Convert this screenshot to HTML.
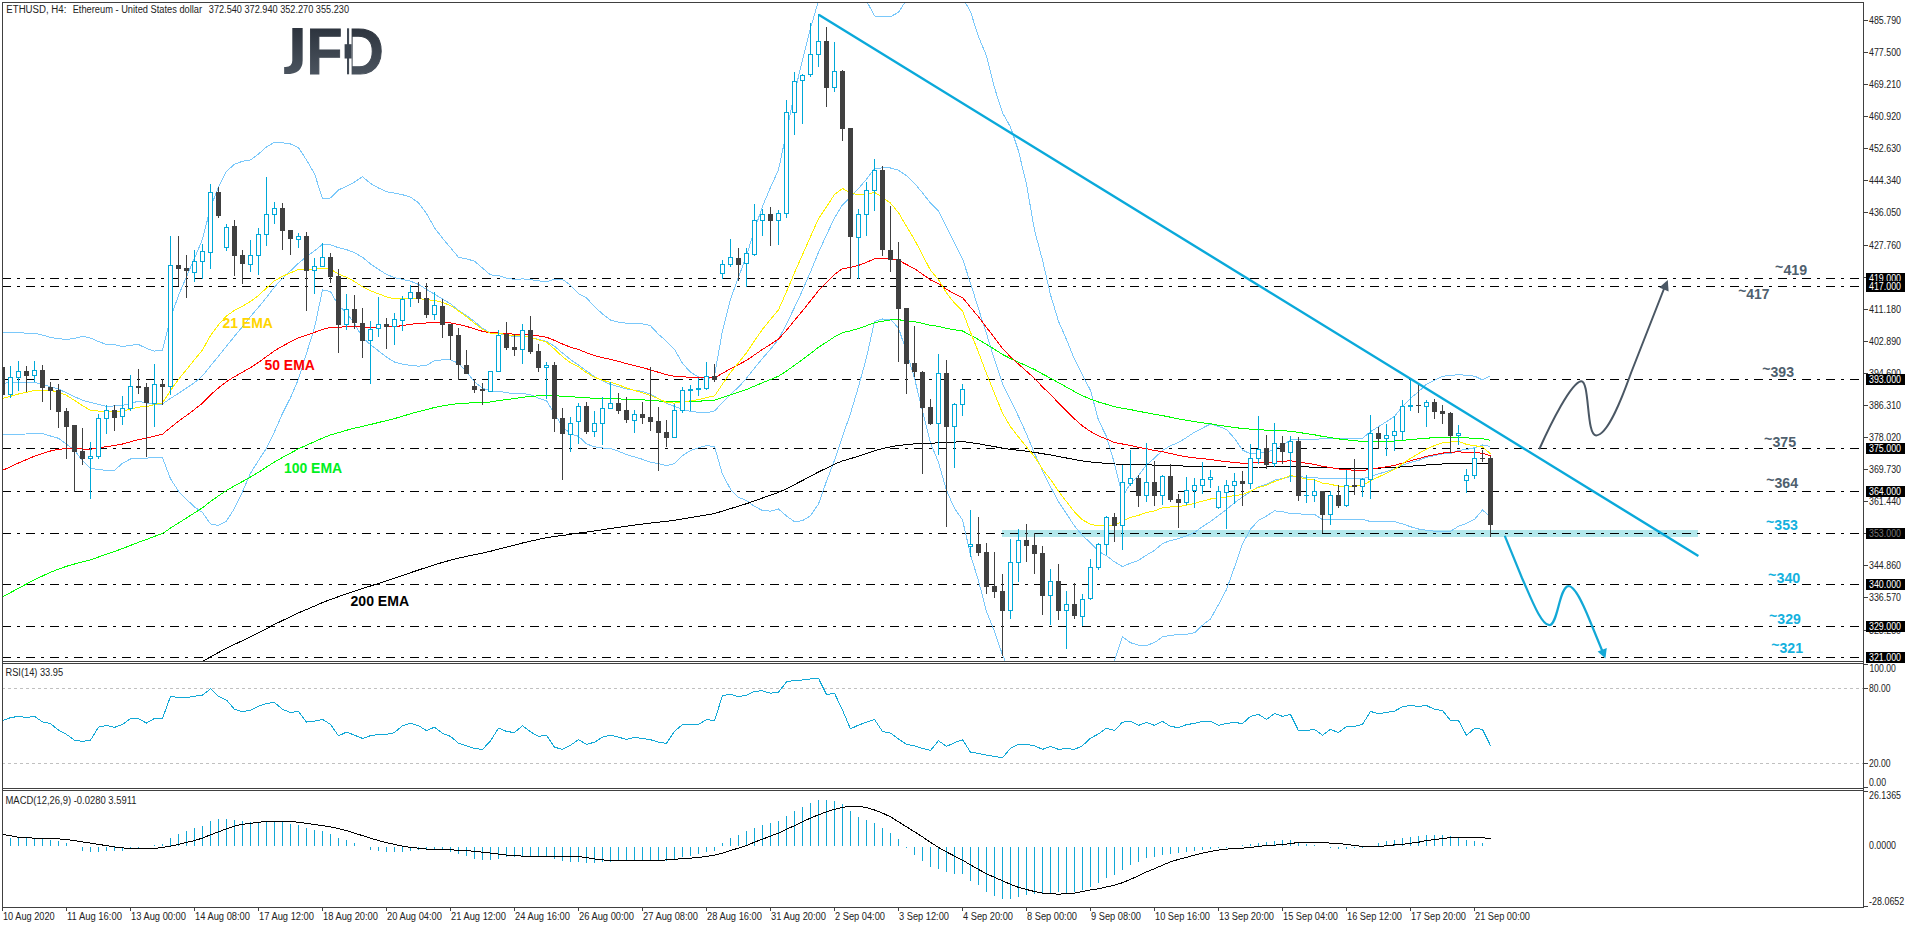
<!DOCTYPE html><html><head><meta charset="utf-8"><title>ETHUSD H4</title>
<style>html,body{margin:0;padding:0;background:#fff;}svg{display:block}text{font-family:"Liberation Sans",sans-serif;}</style></head><body>
<svg width="1916" height="928" viewBox="0 0 1916 928">
<rect width="1916" height="928" fill="#fff"/>
<defs><clipPath id="cm"><rect x="3" y="3" width="1860" height="658"/></clipPath>
<clipPath id="cr"><rect x="3" y="664" width="1860" height="124"/></clipPath>
<clipPath id="cd"><rect x="3" y="791" width="1860" height="116"/></clipPath>
<linearGradient id="lg" gradientUnits="userSpaceOnUse" x1="0" y1="28" x2="0" y2="75"><stop offset="0" stop-color="#2d343e"/><stop offset="1" stop-color="#4b545f"/></linearGradient>
</defs>
<g clip-path="url(#cm)">
<rect x="1002" y="530" width="696" height="7" fill="#b3e8ec"/>
<line x1="2" y1="278.5" x2="1860" y2="278.5" stroke="#000" stroke-width="1" stroke-dasharray="9 6 3 6" shape-rendering="crispEdges"/>
<line x1="2" y1="286.5" x2="1860" y2="286.5" stroke="#000" stroke-width="1" stroke-dasharray="9 6 3 6" shape-rendering="crispEdges"/>
<line x1="2" y1="379.5" x2="1860" y2="379.5" stroke="#000" stroke-width="1" stroke-dasharray="9 6 3 6" shape-rendering="crispEdges"/>
<line x1="2" y1="448.5" x2="1860" y2="448.5" stroke="#000" stroke-width="1" stroke-dasharray="9 6 3 6" shape-rendering="crispEdges"/>
<line x1="2" y1="491.5" x2="1860" y2="491.5" stroke="#000" stroke-width="1" stroke-dasharray="9 6 3 6" shape-rendering="crispEdges"/>
<line x1="2" y1="533.5" x2="1860" y2="533.5" stroke="#000" stroke-width="1" stroke-dasharray="9 6 3 6" shape-rendering="crispEdges"/>
<line x1="2" y1="584.5" x2="1860" y2="584.5" stroke="#000" stroke-width="1" stroke-dasharray="9 6 3 6" shape-rendering="crispEdges"/>
<line x1="2" y1="626.5" x2="1860" y2="626.5" stroke="#000" stroke-width="1" stroke-dasharray="9 6 3 6" shape-rendering="crispEdges"/>
<line x1="2" y1="657.5" x2="1860" y2="657.5" stroke="#000" stroke-width="1" stroke-dasharray="9 6 3 6" shape-rendering="crispEdges"/>
<polyline points="2.5,332.4 10.5,332.4 18.5,332.4 26.5,333.3 34.5,333.3 42.5,335.1 50.5,337.4 58.5,338.7 66.5,339.5 74.5,338.3 82.5,336.3 90.5,338.1 98.5,341.5 106.5,344.5 114.5,344.5 122.5,346.6 130.5,345.2 138.5,344.5 146.5,348.4 154.5,351.1 162.5,350.3 170.5,318.1 178.5,295.5 186.5,276.7 194.5,258.3 202.5,239.1 210.5,207.8 218.5,186.8 226.5,171.3 234.5,164.2 242.5,161.3 250.5,159.9 258.5,154.1 266.5,146.9 274.5,142.3 282.5,142.8 290.5,144.0 298.5,147.6 306.5,160.0 314.5,173.6 322.5,198.7 330.5,198.0 338.5,189.9 346.5,186.5 354.5,182.0 362.5,176.7 370.5,183.4 378.5,188.0 386.5,191.7 394.5,193.1 402.5,194.7 410.5,197.1 418.5,202.8 426.5,213.5 434.5,227.8 442.5,238.2 450.5,247.7 458.5,257.3 466.5,258.9 474.5,261.1 482.5,268.1 490.5,274.9 498.5,275.5 506.5,278.1 514.5,279.4 522.5,278.9 530.5,279.7 538.5,280.8 546.5,282.0 554.5,279.1 562.5,279.4 570.5,285.3 578.5,293.6 586.5,297.8 594.5,306.7 602.5,313.9 610.5,320.1 618.5,322.1 626.5,323.2 634.5,323.5 642.5,323.8 650.5,325.7 658.5,334.3 666.5,341.3 674.5,349.3 682.5,363.3 690.5,372.2 698.5,377.0 706.5,380.3 714.5,375.5 722.5,330.7 730.5,299.3 738.5,277.1 746.5,255.9 754.5,229.8 762.5,206.3 770.5,187.4 778.5,169.8 786.5,132.0 794.5,93.1 802.5,59.9 810.5,28.2 818.5,0.8 826.5,-11.4 834.5,-24.4 842.5,-26.9 850.5,-19.2 858.5,-9.6 866.5,0.8 874.5,15.9 882.5,16.9 890.5,16.7 898.5,12.3 906.5,-0.2 914.5,-11.7 922.5,-25.0 930.5,-36.9 938.5,-40.1 946.5,-36.7 954.5,-22.5 962.5,-2.4 970.5,11.6 978.5,36.7 986.5,55.9 994.5,87.8 1002.5,112.7 1010.5,127.1 1018.5,150.9 1026.5,184.4 1034.5,230.2 1042.5,260.1 1050.5,294.8 1058.5,321.2 1066.5,339.6 1074.5,359.3 1082.5,375.3 1090.5,390.4 1098.5,420.2 1106.5,436.5 1114.5,463.5 1122.5,496.4 1130.5,483.7 1138.5,475.6 1146.5,464.9 1154.5,458.1 1162.5,450.4 1170.5,445.8 1178.5,442.5 1186.5,437.6 1194.5,432.1 1202.5,428.1 1210.5,424.0 1218.5,426.4 1226.5,429.5 1234.5,438.4 1242.5,450.0 1250.5,453.9 1258.5,453.2 1266.5,452.3 1274.5,449.4 1282.5,445.4 1290.5,439.9 1298.5,439.9 1306.5,439.7 1314.5,439.8 1322.5,438.4 1330.5,438.5 1338.5,438.3 1346.5,438.3 1354.5,438.3 1362.5,438.4 1370.5,431.6 1378.5,426.6 1386.5,421.6 1394.5,416.4 1402.5,406.4 1410.5,398.3 1418.5,391.7 1426.5,384.2 1434.5,380.2 1442.5,376.2 1450.5,375.6 1458.5,374.5 1466.5,375.4 1474.5,376.1 1482.5,379.9 1490.5,375.9" fill="none" stroke="#7ac8fa" stroke-width="1" shape-rendering="crispEdges" />
<polyline points="2.5,383.1 10.5,382.9 18.5,382.6 26.5,382.4 34.5,382.2 42.5,384.5 50.5,386.8 58.5,389.1 66.5,392.8 74.5,396.6 82.5,400.3 90.5,402.3 98.5,404.4 106.5,406.4 114.5,405.9 122.5,405.5 130.5,403.4 138.5,401.2 146.5,403.0 154.5,404.4 162.5,404.0 170.5,398.4 178.5,393.3 186.5,388.1 194.5,382.6 202.5,375.8 210.5,365.9 218.5,356.1 226.5,346.1 234.5,336.3 242.5,326.6 250.5,316.5 258.5,307.3 266.5,297.5 274.5,287.1 282.5,278.2 290.5,270.8 298.5,263.2 306.5,256.7 314.5,250.8 322.5,244.3 330.5,244.8 338.5,247.7 346.5,249.6 354.5,252.7 362.5,257.2 370.5,264.0 378.5,269.4 386.5,274.4 394.5,277.6 402.5,279.4 410.5,281.2 418.5,284.4 426.5,289.4 434.5,294.3 442.5,299.0 450.5,303.8 458.5,310.2 466.5,315.4 474.5,321.5 482.5,328.2 490.5,332.9 498.5,333.4 506.5,335.3 514.5,336.6 522.5,336.1 530.5,337.2 538.5,339.4 546.5,341.4 554.5,346.3 562.5,353.0 570.5,359.6 578.5,365.0 586.5,370.9 594.5,376.8 602.5,380.9 610.5,384.4 618.5,386.6 626.5,388.9 634.5,390.2 642.5,391.5 650.5,394.0 658.5,398.9 666.5,403.4 674.5,406.4 682.5,409.4 690.5,411.3 698.5,412.4 706.5,412.9 714.5,411.0 722.5,402.6 730.5,394.2 738.5,387.2 746.5,378.2 754.5,368.1 762.5,358.4 770.5,349.2 778.5,339.4 786.5,324.0 794.5,307.4 802.5,290.3 810.5,271.9 818.5,252.4 826.5,234.9 834.5,217.9 842.5,204.8 850.5,197.2 858.5,188.5 866.5,179.2 874.5,168.7 882.5,167.9 890.5,168.0 898.5,170.2 906.5,175.7 914.5,183.3 922.5,192.9 930.5,203.1 938.5,211.1 946.5,226.8 954.5,243.0 962.5,258.7 970.5,283.2 978.5,308.8 986.5,333.7 994.5,359.7 1002.5,383.8 1010.5,400.1 1018.5,416.4 1026.5,434.1 1034.5,453.3 1042.5,470.6 1050.5,486.7 1058.5,501.8 1066.5,513.8 1074.5,526.0 1082.5,535.6 1090.5,542.8 1098.5,551.3 1106.5,555.8 1114.5,561.9 1122.5,566.5 1130.5,563.2 1138.5,560.4 1146.5,555.1 1154.5,550.4 1162.5,543.6 1170.5,540.5 1178.5,538.6 1186.5,535.9 1194.5,532.5 1202.5,526.6 1210.5,521.5 1218.5,515.5 1226.5,509.5 1234.5,502.8 1242.5,497.0 1250.5,491.6 1258.5,486.8 1266.5,484.2 1274.5,480.1 1282.5,478.6 1290.5,476.7 1298.5,476.7 1306.5,477.3 1314.5,477.1 1322.5,479.0 1330.5,478.8 1338.5,478.9 1346.5,478.7 1354.5,478.8 1362.5,478.8 1370.5,476.6 1378.5,473.9 1386.5,471.5 1394.5,469.0 1402.5,465.1 1410.5,462.5 1418.5,460.4 1426.5,457.2 1434.5,455.7 1442.5,453.8 1450.5,453.5 1458.5,450.4 1466.5,449.4 1474.5,447.8 1482.5,445.0 1490.5,446.4" fill="none" stroke="#7ac8fa" stroke-width="1" shape-rendering="crispEdges" />
<polyline points="2.5,434.5 10.5,434.3 18.5,434.1 26.5,434.0 34.5,433.8 42.5,433.6 50.5,436.0 58.5,438.3 66.5,444.3 74.5,450.3 82.5,460.7 90.5,468.4 98.5,469.4 106.5,470.5 114.5,470.2 122.5,463.3 130.5,459.0 138.5,458.6 146.5,458.1 154.5,457.7 162.5,457.7 170.5,478.8 178.5,491.2 186.5,499.4 194.5,506.9 202.5,512.5 210.5,523.9 218.5,525.4 226.5,521.0 234.5,508.4 242.5,491.8 250.5,473.2 258.5,460.5 266.5,448.1 274.5,431.8 282.5,413.5 290.5,397.7 298.5,378.9 306.5,353.3 314.5,327.9 322.5,289.8 330.5,291.7 338.5,305.5 346.5,312.7 354.5,323.4 362.5,337.6 370.5,344.6 378.5,350.9 386.5,357.1 394.5,362.0 402.5,364.1 410.5,365.4 418.5,366.1 426.5,365.4 434.5,360.7 442.5,359.8 450.5,359.9 458.5,363.2 466.5,371.8 474.5,381.9 482.5,388.2 490.5,390.9 498.5,391.3 506.5,392.5 514.5,393.9 522.5,393.4 530.5,394.8 538.5,398.1 546.5,400.8 554.5,413.6 562.5,426.7 570.5,433.8 578.5,436.3 586.5,443.9 594.5,446.8 602.5,448.0 610.5,448.6 618.5,451.2 626.5,454.7 634.5,456.9 642.5,459.3 650.5,462.3 658.5,463.5 666.5,465.6 674.5,463.6 682.5,455.6 690.5,450.5 698.5,447.7 706.5,445.6 714.5,446.5 722.5,474.4 730.5,489.2 738.5,497.3 746.5,500.6 754.5,506.4 762.5,510.5 770.5,511.1 778.5,509.0 786.5,516.0 794.5,521.7 802.5,520.7 810.5,515.7 818.5,504.0 826.5,481.2 834.5,460.2 842.5,436.5 850.5,413.5 858.5,386.6 866.5,357.6 874.5,321.5 882.5,319.0 890.5,319.3 898.5,328.1 906.5,351.6 914.5,378.3 922.5,410.9 930.5,443.1 938.5,462.4 946.5,490.4 954.5,508.5 962.5,519.8 970.5,554.8 978.5,580.8 986.5,611.5 994.5,631.6 1002.5,654.9 1010.5,673.1 1018.5,681.9 1026.5,683.9 1034.5,676.4 1042.5,681.1 1050.5,678.6 1058.5,682.4 1066.5,688.0 1074.5,692.7 1082.5,695.9 1090.5,695.1 1098.5,682.4 1106.5,675.1 1114.5,660.2 1122.5,636.6 1130.5,642.7 1138.5,645.1 1146.5,645.4 1154.5,642.6 1162.5,636.9 1170.5,635.2 1178.5,634.7 1186.5,634.2 1194.5,632.8 1202.5,625.2 1210.5,618.9 1218.5,604.6 1226.5,589.6 1234.5,567.2 1242.5,544.0 1250.5,529.2 1258.5,520.4 1266.5,516.1 1274.5,510.8 1282.5,511.7 1290.5,513.5 1298.5,513.5 1306.5,514.9 1314.5,514.4 1322.5,519.7 1330.5,519.1 1338.5,519.6 1346.5,519.1 1354.5,519.2 1362.5,519.2 1370.5,521.6 1378.5,521.3 1386.5,521.4 1394.5,521.6 1402.5,523.9 1410.5,526.7 1418.5,529.0 1426.5,530.3 1434.5,531.2 1442.5,531.4 1450.5,531.4 1458.5,526.2 1466.5,523.4 1474.5,519.4 1482.5,510.0 1490.5,517.0" fill="none" stroke="#7ac8fa" stroke-width="1" shape-rendering="crispEdges" />
<polyline points="2.5,743.5 10.5,739.9 18.5,736.2 26.5,732.6 34.5,729.0 42.5,725.6 50.5,722.3 58.5,719.2 66.5,716.3 74.5,713.6 82.5,711.1 90.5,708.6 98.5,705.7 106.5,702.7 114.5,699.9 122.5,697.0 130.5,693.9 138.5,690.9 146.5,688.0 154.5,685.0 162.5,682.0 170.5,677.9 178.5,673.8 186.5,669.8 194.5,665.7 202.5,661.6 210.5,656.9 218.5,652.5 226.5,648.3 234.5,644.4 242.5,640.6 250.5,636.8 258.5,632.8 266.5,628.6 274.5,624.4 282.5,620.5 290.5,616.7 298.5,612.9 306.5,609.5 314.5,606.1 322.5,602.6 330.5,599.4 338.5,596.7 346.5,593.8 354.5,591.1 362.5,588.6 370.5,586.0 378.5,583.4 386.5,580.9 394.5,578.3 402.5,575.5 410.5,572.7 418.5,570.0 426.5,567.4 434.5,564.8 442.5,562.4 450.5,560.2 458.5,558.2 466.5,556.4 474.5,554.7 482.5,553.1 490.5,551.3 498.5,549.1 506.5,547.1 514.5,545.2 522.5,543.0 530.5,541.1 538.5,539.4 546.5,537.7 554.5,536.5 562.5,535.5 570.5,534.3 578.5,533.1 586.5,532.1 594.5,531.0 602.5,529.8 610.5,528.5 618.5,527.3 626.5,526.3 634.5,525.1 642.5,524.1 650.5,523.1 658.5,522.2 666.5,521.3 674.5,520.2 682.5,518.9 690.5,517.6 698.5,516.3 706.5,515.0 714.5,513.6 722.5,511.1 730.5,508.6 738.5,506.2 746.5,503.7 754.5,500.9 762.5,498.0 770.5,495.2 778.5,492.4 786.5,488.7 794.5,484.6 802.5,480.5 810.5,476.3 818.5,472.0 826.5,468.1 834.5,464.2 842.5,460.9 850.5,458.6 858.5,456.2 866.5,453.6 874.5,450.7 882.5,448.7 890.5,446.8 898.5,445.5 906.5,444.7 914.5,443.9 922.5,443.6 930.5,443.4 938.5,442.7 946.5,442.5 954.5,442.1 962.5,441.6 970.5,442.6 978.5,443.7 986.5,445.2 994.5,446.6 1002.5,448.2 1010.5,449.4 1018.5,450.3 1026.5,451.2 1034.5,452.3 1042.5,453.7 1050.5,454.9 1058.5,456.5 1066.5,458.0 1074.5,459.5 1082.5,460.9 1090.5,462.0 1098.5,462.8 1106.5,463.3 1114.5,464.0 1122.5,464.1 1130.5,464.3 1138.5,464.6 1146.5,464.8 1154.5,465.1 1162.5,465.2 1170.5,465.5 1178.5,465.9 1186.5,466.1 1194.5,466.3 1202.5,466.5 1210.5,466.6 1218.5,466.8 1226.5,467.0 1234.5,467.1 1242.5,467.3 1250.5,467.2 1258.5,467.0 1266.5,467.0 1274.5,466.8 1282.5,466.6 1290.5,466.4 1298.5,466.7 1306.5,466.9 1314.5,467.2 1322.5,467.7 1330.5,467.9 1338.5,468.3 1346.5,468.5 1354.5,468.7 1362.5,468.8 1370.5,468.4 1378.5,468.1 1386.5,467.8 1394.5,467.4 1402.5,466.8 1410.5,466.2 1418.5,465.6 1426.5,465.0 1434.5,464.5 1442.5,464.0 1450.5,463.7 1458.5,463.4 1466.5,463.5 1474.5,463.4 1482.5,463.4 1490.5,464.0" fill="none" stroke="#000000" stroke-width="1" shape-rendering="crispEdges" />
<polyline points="2.5,596.9 10.5,592.6 18.5,588.2 26.5,584.0 34.5,579.7 42.5,576.0 50.5,572.3 58.5,569.1 66.5,566.3 74.5,564.0 82.5,561.9 90.5,559.8 98.5,557.0 106.5,554.1 114.5,551.4 122.5,548.6 130.5,545.4 138.5,542.3 146.5,539.5 154.5,536.4 162.5,533.5 170.5,528.1 178.5,523.0 186.5,518.0 194.5,512.9 202.5,507.8 210.5,501.5 218.5,495.9 226.5,490.5 234.5,485.9 242.5,481.5 250.5,477.0 258.5,472.2 266.5,467.1 274.5,462.0 282.5,457.4 290.5,453.1 298.5,448.8 306.5,445.3 314.5,441.7 322.5,438.1 330.5,434.9 338.5,432.7 346.5,430.3 354.5,428.1 362.5,426.4 370.5,424.5 378.5,422.5 386.5,420.6 394.5,418.6 402.5,416.2 410.5,413.8 418.5,411.5 426.5,409.6 434.5,407.5 442.5,405.9 450.5,404.5 458.5,403.7 466.5,403.1 474.5,402.8 482.5,402.6 490.5,402.0 498.5,400.6 506.5,399.6 514.5,398.6 522.5,397.3 530.5,396.4 538.5,395.8 546.5,395.2 554.5,395.6 562.5,396.4 570.5,396.9 578.5,397.1 586.5,397.8 594.5,398.3 602.5,398.5 610.5,398.6 618.5,398.9 626.5,399.3 634.5,399.6 642.5,399.9 650.5,400.3 658.5,401.0 666.5,401.7 674.5,401.9 682.5,401.7 690.5,401.4 698.5,401.2 706.5,400.7 714.5,400.3 722.5,397.6 730.5,394.8 738.5,392.2 746.5,389.5 754.5,386.1 762.5,382.7 770.5,379.5 778.5,376.2 786.5,371.0 794.5,365.3 802.5,359.5 810.5,353.5 818.5,347.3 826.5,342.2 834.5,336.8 842.5,332.7 850.5,330.8 858.5,328.5 866.5,325.7 874.5,322.7 882.5,321.2 890.5,320.0 898.5,319.8 906.5,320.6 914.5,321.7 922.5,323.4 930.5,325.4 938.5,326.3 946.5,328.3 954.5,329.8 962.5,331.0 970.5,335.2 978.5,339.5 986.5,344.4 994.5,349.3 1002.5,354.5 1010.5,358.6 1018.5,362.2 1026.5,365.8 1034.5,369.5 1042.5,374.0 1050.5,378.1 1058.5,382.7 1066.5,387.1 1074.5,391.6 1082.5,395.7 1090.5,399.1 1098.5,402.0 1106.5,404.3 1114.5,406.7 1122.5,408.2 1130.5,409.6 1138.5,411.3 1146.5,412.7 1154.5,414.3 1162.5,415.6 1170.5,417.2 1178.5,418.9 1186.5,420.3 1194.5,421.6 1202.5,422.8 1210.5,423.8 1218.5,425.2 1226.5,426.4 1234.5,427.4 1242.5,428.6 1250.5,429.1 1258.5,429.5 1266.5,430.2 1274.5,430.5 1282.5,430.9 1290.5,431.1 1298.5,432.4 1306.5,433.6 1314.5,434.8 1322.5,436.4 1330.5,437.5 1338.5,438.9 1346.5,439.8 1354.5,440.7 1362.5,441.5 1370.5,441.3 1378.5,441.3 1386.5,441.2 1394.5,441.0 1402.5,440.3 1410.5,439.6 1418.5,438.9 1426.5,438.2 1434.5,437.7 1442.5,437.2 1450.5,437.2 1458.5,437.1 1466.5,437.9 1474.5,438.3 1482.5,438.7 1490.5,440.4" fill="none" stroke="#00ff00" stroke-width="1" shape-rendering="crispEdges" />
<polyline points="2.5,470.4 10.5,466.8 18.5,463.0 26.5,459.6 34.5,456.1 42.5,453.4 50.5,451.0 58.5,449.4 66.5,448.5 74.5,448.6 82.5,449.0 90.5,449.3 98.5,448.1 106.5,446.6 114.5,445.5 122.5,444.0 130.5,441.8 138.5,439.6 146.5,438.2 154.5,436.1 162.5,434.2 170.5,427.5 178.5,421.3 186.5,415.4 194.5,409.4 202.5,403.2 210.5,394.9 218.5,387.9 226.5,381.6 234.5,376.7 242.5,372.2 250.5,367.6 258.5,362.4 266.5,356.6 274.5,350.8 282.5,346.1 290.5,341.9 298.5,337.7 306.5,335.1 314.5,332.4 322.5,329.5 330.5,327.4 338.5,327.3 346.5,326.6 354.5,326.5 362.5,327.0 370.5,327.1 378.5,327.0 386.5,327.0 394.5,326.7 402.5,325.6 410.5,324.3 418.5,323.3 426.5,323.0 434.5,322.3 442.5,322.4 450.5,322.9 458.5,324.5 466.5,326.4 474.5,328.9 482.5,331.3 490.5,332.9 498.5,333.0 506.5,333.6 514.5,334.2 522.5,334.1 530.5,334.8 538.5,336.0 546.5,337.2 554.5,340.4 562.5,344.0 570.5,347.2 578.5,349.5 586.5,352.7 594.5,355.5 602.5,357.6 610.5,359.4 618.5,361.4 626.5,363.7 634.5,365.6 642.5,367.7 650.5,369.8 658.5,372.3 666.5,374.8 674.5,376.2 682.5,376.8 690.5,377.3 698.5,377.7 706.5,377.7 714.5,377.8 722.5,373.3 730.5,368.8 738.5,364.7 746.5,360.3 754.5,354.9 762.5,349.4 770.5,344.3 778.5,339.2 786.5,330.3 794.5,320.5 802.5,310.9 810.5,300.8 818.5,290.7 826.5,282.7 834.5,274.4 842.5,268.7 850.5,267.4 858.5,265.4 866.5,262.4 874.5,258.8 882.5,258.4 890.5,258.5 898.5,260.4 906.5,264.5 914.5,268.7 922.5,274.2 930.5,280.0 938.5,283.7 946.5,289.3 954.5,293.8 962.5,297.6 970.5,307.3 978.5,316.9 986.5,327.4 994.5,337.8 1002.5,348.5 1010.5,356.9 1018.5,364.1 1026.5,371.2 1034.5,378.4 1042.5,386.9 1050.5,394.5 1058.5,403.0 1066.5,410.9 1074.5,418.9 1082.5,426.0 1090.5,431.5 1098.5,435.9 1106.5,439.1 1114.5,442.5 1122.5,444.0 1130.5,445.4 1138.5,447.4 1146.5,448.7 1154.5,450.6 1162.5,451.6 1170.5,453.5 1178.5,455.4 1186.5,456.8 1194.5,457.9 1202.5,458.7 1210.5,459.5 1218.5,460.7 1226.5,461.7 1234.5,462.4 1242.5,463.3 1250.5,463.0 1258.5,462.5 1266.5,462.6 1274.5,461.8 1282.5,461.4 1290.5,460.7 1298.5,462.0 1306.5,463.3 1314.5,464.4 1322.5,466.4 1330.5,467.5 1338.5,469.0 1346.5,469.7 1354.5,470.3 1362.5,470.7 1370.5,469.2 1378.5,468.0 1386.5,466.7 1394.5,465.4 1402.5,463.1 1410.5,460.8 1418.5,458.6 1426.5,456.4 1434.5,454.7 1442.5,453.1 1450.5,452.4 1458.5,451.7 1466.5,452.6 1474.5,452.8 1482.5,453.1 1490.5,455.9" fill="none" stroke="#ff0000" stroke-width="1" shape-rendering="crispEdges" />
<polyline points="2.5,398.3 10.5,396.3 18.5,394.0 26.5,392.4 34.5,390.4 42.5,390.2 50.5,390.3 58.5,392.2 66.5,395.3 74.5,400.4 82.5,405.7 90.5,410.3 98.5,411.1 106.5,411.0 114.5,411.6 122.5,411.3 130.5,409.0 138.5,407.1 146.5,406.6 154.5,404.6 162.5,403.0 170.5,390.5 178.5,379.4 186.5,369.6 194.5,359.7 202.5,349.9 210.5,335.6 218.5,324.7 226.5,315.9 234.5,310.4 242.5,306.1 250.5,301.5 258.5,295.4 266.5,288.1 274.5,280.8 282.5,276.3 290.5,272.9 298.5,269.5 306.5,269.6 314.5,269.3 322.5,268.2 330.5,269.0 338.5,274.1 346.5,277.3 354.5,281.5 362.5,286.9 370.5,290.8 378.5,293.8 386.5,296.8 394.5,298.8 402.5,298.9 410.5,298.3 418.5,298.3 426.5,299.8 434.5,300.3 442.5,302.5 450.5,305.5 458.5,310.9 466.5,316.6 474.5,323.2 482.5,329.3 490.5,333.2 498.5,333.3 506.5,334.6 514.5,336.0 522.5,335.5 530.5,337.0 538.5,339.8 546.5,342.1 554.5,349.1 562.5,356.7 570.5,362.8 578.5,366.8 586.5,372.7 594.5,377.3 602.5,380.2 610.5,382.3 618.5,384.8 626.5,388.0 634.5,390.4 642.5,392.8 650.5,395.4 658.5,398.8 666.5,402.4 674.5,403.1 682.5,402.0 690.5,400.8 698.5,399.7 706.5,397.6 714.5,396.0 722.5,384.0 730.5,372.5 738.5,362.8 746.5,352.8 754.5,340.8 762.5,329.3 770.5,319.4 778.5,309.8 786.5,291.8 794.5,272.7 802.5,254.8 810.5,236.6 818.5,218.8 826.5,206.9 834.5,194.5 842.5,188.5 850.5,192.9 858.5,194.9 866.5,194.5 874.5,192.3 882.5,197.5 890.5,203.1 898.5,212.7 906.5,226.4 914.5,239.7 922.5,254.9 930.5,270.3 938.5,279.7 946.5,293.0 954.5,303.2 962.5,311.0 970.5,332.2 978.5,352.3 986.5,373.6 994.5,393.4 1002.5,413.1 1010.5,426.7 1018.5,437.0 1026.5,446.9 1034.5,456.6 1042.5,469.2 1050.5,479.4 1058.5,491.3 1066.5,501.6 1074.5,511.9 1082.5,519.9 1090.5,524.2 1098.5,526.0 1106.5,525.2 1114.5,525.2 1122.5,521.3 1130.5,517.4 1138.5,515.4 1146.5,512.4 1154.5,510.9 1162.5,507.8 1170.5,507.0 1178.5,506.7 1186.5,505.2 1194.5,503.4 1202.5,501.1 1210.5,499.0 1218.5,498.3 1226.5,497.1 1234.5,495.6 1242.5,494.5 1250.5,491.2 1258.5,487.4 1266.5,485.3 1274.5,481.5 1282.5,478.8 1290.5,475.4 1298.5,477.2 1306.5,478.9 1314.5,480.0 1322.5,483.1 1330.5,484.3 1338.5,486.2 1346.5,486.1 1354.5,486.2 1362.5,485.6 1370.5,480.8 1378.5,477.0 1386.5,473.2 1394.5,469.4 1402.5,463.7 1410.5,458.4 1418.5,453.6 1426.5,449.0 1434.5,445.6 1442.5,442.8 1450.5,442.1 1458.5,441.3 1466.5,444.4 1474.5,445.7 1482.5,446.9 1490.5,453.9" fill="none" stroke="#fff200" stroke-width="1" shape-rendering="crispEdges" />
<g shape-rendering="crispEdges">
<rect x="2" y="365" width="1" height="32" fill="#404040"/>
<rect x="0" y="367" width="5" height="28" fill="#404040"/>
<rect x="10" y="366" width="1" height="32" fill="#00a8d8"/>
<rect x="8" y="377" width="5" height="18" fill="#00a8d8"/>
<rect x="9" y="378" width="3" height="16" fill="#fff"/>
<rect x="18" y="361" width="1" height="30" fill="#00a8d8"/>
<rect x="16" y="371" width="5" height="7" fill="#00a8d8"/>
<rect x="17" y="372" width="3" height="5" fill="#fff"/>
<rect x="26" y="366" width="1" height="26" fill="#404040"/>
<rect x="24" y="371" width="5" height="5" fill="#404040"/>
<rect x="34" y="361" width="1" height="21" fill="#00a8d8"/>
<rect x="32" y="370" width="5" height="6" fill="#00a8d8"/>
<rect x="33" y="371" width="3" height="4" fill="#fff"/>
<rect x="42" y="365" width="1" height="37" fill="#404040"/>
<rect x="40" y="370" width="5" height="18" fill="#404040"/>
<rect x="50" y="382" width="1" height="28" fill="#404040"/>
<rect x="48" y="387" width="5" height="4" fill="#404040"/>
<rect x="58" y="384" width="1" height="44" fill="#404040"/>
<rect x="56" y="390" width="5" height="22" fill="#404040"/>
<rect x="66" y="408" width="1" height="51" fill="#404040"/>
<rect x="64" y="411" width="5" height="16" fill="#404040"/>
<rect x="74" y="425" width="1" height="67" fill="#404040"/>
<rect x="72" y="425" width="5" height="27" fill="#404040"/>
<rect x="82" y="428" width="1" height="37" fill="#404040"/>
<rect x="80" y="451" width="5" height="8" fill="#404040"/>
<rect x="90" y="442" width="1" height="57" fill="#00a8d8"/>
<rect x="88" y="456" width="5" height="3" fill="#00a8d8"/>
<rect x="89" y="457" width="3" height="1" fill="#fff"/>
<rect x="98" y="414" width="1" height="45" fill="#00a8d8"/>
<rect x="96" y="418" width="5" height="39" fill="#00a8d8"/>
<rect x="97" y="419" width="3" height="37" fill="#fff"/>
<rect x="106" y="405" width="1" height="29" fill="#00a8d8"/>
<rect x="104" y="410" width="5" height="9" fill="#00a8d8"/>
<rect x="105" y="411" width="3" height="7" fill="#fff"/>
<rect x="114" y="405" width="1" height="26" fill="#404040"/>
<rect x="112" y="410" width="5" height="8" fill="#404040"/>
<rect x="122" y="396" width="1" height="29" fill="#00a8d8"/>
<rect x="120" y="408" width="5" height="9" fill="#00a8d8"/>
<rect x="121" y="409" width="3" height="7" fill="#fff"/>
<rect x="130" y="375" width="1" height="36" fill="#00a8d8"/>
<rect x="128" y="386" width="5" height="23" fill="#00a8d8"/>
<rect x="129" y="387" width="3" height="21" fill="#fff"/>
<rect x="138" y="369" width="1" height="25" fill="#404040"/>
<rect x="136" y="386" width="5" height="2" fill="#404040"/>
<rect x="146" y="383" width="1" height="74" fill="#404040"/>
<rect x="144" y="387" width="5" height="16" fill="#404040"/>
<rect x="154" y="364" width="1" height="63" fill="#00a8d8"/>
<rect x="152" y="384" width="5" height="20" fill="#00a8d8"/>
<rect x="153" y="385" width="3" height="18" fill="#fff"/>
<rect x="162" y="379" width="1" height="26" fill="#404040"/>
<rect x="160" y="384" width="5" height="3" fill="#404040"/>
<rect x="170" y="236" width="1" height="159" fill="#00a8d8"/>
<rect x="168" y="265" width="5" height="122" fill="#00a8d8"/>
<rect x="169" y="266" width="3" height="120" fill="#fff"/>
<rect x="178" y="236" width="1" height="50" fill="#404040"/>
<rect x="176" y="265" width="5" height="4" fill="#404040"/>
<rect x="186" y="255" width="1" height="43" fill="#404040"/>
<rect x="184" y="268" width="5" height="3" fill="#404040"/>
<rect x="194" y="250" width="1" height="32" fill="#00a8d8"/>
<rect x="192" y="261" width="5" height="12" fill="#00a8d8"/>
<rect x="193" y="262" width="3" height="10" fill="#fff"/>
<rect x="202" y="244" width="1" height="35" fill="#00a8d8"/>
<rect x="200" y="251" width="5" height="11" fill="#00a8d8"/>
<rect x="201" y="252" width="3" height="9" fill="#fff"/>
<rect x="210" y="184" width="1" height="85" fill="#00a8d8"/>
<rect x="208" y="192" width="5" height="61" fill="#00a8d8"/>
<rect x="209" y="193" width="3" height="59" fill="#fff"/>
<rect x="218" y="187" width="1" height="31" fill="#404040"/>
<rect x="216" y="192" width="5" height="24" fill="#404040"/>
<rect x="226" y="224" width="1" height="27" fill="#00a8d8"/>
<rect x="224" y="227" width="5" height="21" fill="#00a8d8"/>
<rect x="225" y="228" width="3" height="19" fill="#fff"/>
<rect x="234" y="220" width="1" height="56" fill="#404040"/>
<rect x="232" y="226" width="5" height="30" fill="#404040"/>
<rect x="242" y="250" width="1" height="34" fill="#404040"/>
<rect x="240" y="255" width="5" height="9" fill="#404040"/>
<rect x="250" y="240" width="1" height="32" fill="#00a8d8"/>
<rect x="248" y="255" width="5" height="10" fill="#00a8d8"/>
<rect x="249" y="256" width="3" height="8" fill="#fff"/>
<rect x="258" y="228" width="1" height="47" fill="#00a8d8"/>
<rect x="256" y="234" width="5" height="22" fill="#00a8d8"/>
<rect x="257" y="235" width="3" height="20" fill="#fff"/>
<rect x="266" y="177" width="1" height="69" fill="#00a8d8"/>
<rect x="264" y="214" width="5" height="21" fill="#00a8d8"/>
<rect x="265" y="215" width="3" height="19" fill="#fff"/>
<rect x="274" y="202" width="1" height="22" fill="#00a8d8"/>
<rect x="272" y="208" width="5" height="7" fill="#00a8d8"/>
<rect x="273" y="209" width="3" height="5" fill="#fff"/>
<rect x="282" y="203" width="1" height="47" fill="#404040"/>
<rect x="280" y="208" width="5" height="23" fill="#404040"/>
<rect x="290" y="230" width="1" height="25" fill="#404040"/>
<rect x="288" y="230" width="5" height="9" fill="#404040"/>
<rect x="298" y="233" width="1" height="15" fill="#00a8d8"/>
<rect x="296" y="236" width="5" height="4" fill="#00a8d8"/>
<rect x="297" y="237" width="3" height="2" fill="#fff"/>
<rect x="306" y="232" width="1" height="79" fill="#404040"/>
<rect x="304" y="236" width="5" height="35" fill="#404040"/>
<rect x="314" y="258" width="1" height="36" fill="#00a8d8"/>
<rect x="312" y="266" width="5" height="5" fill="#00a8d8"/>
<rect x="313" y="267" width="3" height="3" fill="#fff"/>
<rect x="322" y="243" width="1" height="24" fill="#00a8d8"/>
<rect x="320" y="257" width="5" height="10" fill="#00a8d8"/>
<rect x="321" y="258" width="3" height="8" fill="#fff"/>
<rect x="330" y="253" width="1" height="30" fill="#404040"/>
<rect x="328" y="257" width="5" height="20" fill="#404040"/>
<rect x="338" y="269" width="1" height="84" fill="#404040"/>
<rect x="336" y="276" width="5" height="49" fill="#404040"/>
<rect x="346" y="294" width="1" height="36" fill="#00a8d8"/>
<rect x="344" y="309" width="5" height="16" fill="#00a8d8"/>
<rect x="345" y="310" width="3" height="14" fill="#fff"/>
<rect x="354" y="295" width="1" height="34" fill="#404040"/>
<rect x="352" y="309" width="5" height="14" fill="#404040"/>
<rect x="362" y="308" width="1" height="50" fill="#404040"/>
<rect x="360" y="323" width="5" height="18" fill="#404040"/>
<rect x="370" y="321" width="1" height="63" fill="#00a8d8"/>
<rect x="368" y="329" width="5" height="12" fill="#00a8d8"/>
<rect x="369" y="330" width="3" height="10" fill="#fff"/>
<rect x="378" y="297" width="1" height="40" fill="#00a8d8"/>
<rect x="376" y="324" width="5" height="5" fill="#00a8d8"/>
<rect x="377" y="325" width="3" height="3" fill="#fff"/>
<rect x="386" y="318" width="1" height="31" fill="#404040"/>
<rect x="384" y="324" width="5" height="3" fill="#404040"/>
<rect x="394" y="313" width="1" height="32" fill="#00a8d8"/>
<rect x="392" y="319" width="5" height="8" fill="#00a8d8"/>
<rect x="393" y="320" width="3" height="6" fill="#fff"/>
<rect x="402" y="296" width="1" height="35" fill="#00a8d8"/>
<rect x="400" y="299" width="5" height="22" fill="#00a8d8"/>
<rect x="401" y="300" width="3" height="20" fill="#fff"/>
<rect x="410" y="285" width="1" height="22" fill="#00a8d8"/>
<rect x="408" y="292" width="5" height="7" fill="#00a8d8"/>
<rect x="409" y="293" width="3" height="5" fill="#fff"/>
<rect x="418" y="282" width="1" height="21" fill="#404040"/>
<rect x="416" y="292" width="5" height="7" fill="#404040"/>
<rect x="426" y="283" width="1" height="35" fill="#404040"/>
<rect x="424" y="298" width="5" height="17" fill="#404040"/>
<rect x="434" y="292" width="1" height="28" fill="#00a8d8"/>
<rect x="432" y="305" width="5" height="10" fill="#00a8d8"/>
<rect x="433" y="306" width="3" height="8" fill="#fff"/>
<rect x="442" y="299" width="1" height="39" fill="#404040"/>
<rect x="440" y="306" width="5" height="19" fill="#404040"/>
<rect x="450" y="324" width="1" height="36" fill="#404040"/>
<rect x="448" y="324" width="5" height="12" fill="#404040"/>
<rect x="458" y="328" width="1" height="52" fill="#404040"/>
<rect x="456" y="335" width="5" height="30" fill="#404040"/>
<rect x="466" y="350" width="1" height="24" fill="#404040"/>
<rect x="464" y="365" width="5" height="9" fill="#404040"/>
<rect x="474" y="379" width="1" height="14" fill="#404040"/>
<rect x="472" y="386" width="5" height="4" fill="#404040"/>
<rect x="482" y="383" width="1" height="22" fill="#404040"/>
<rect x="480" y="389" width="5" height="2" fill="#404040"/>
<rect x="490" y="371" width="1" height="21" fill="#00a8d8"/>
<rect x="488" y="371" width="5" height="21" fill="#00a8d8"/>
<rect x="489" y="372" width="3" height="19" fill="#fff"/>
<rect x="498" y="330" width="1" height="42" fill="#00a8d8"/>
<rect x="496" y="335" width="5" height="37" fill="#00a8d8"/>
<rect x="497" y="336" width="3" height="35" fill="#fff"/>
<rect x="506" y="322" width="1" height="28" fill="#404040"/>
<rect x="504" y="334" width="5" height="14" fill="#404040"/>
<rect x="514" y="334" width="1" height="22" fill="#404040"/>
<rect x="512" y="347" width="5" height="3" fill="#404040"/>
<rect x="522" y="324" width="1" height="40" fill="#00a8d8"/>
<rect x="520" y="330" width="5" height="20" fill="#00a8d8"/>
<rect x="521" y="331" width="3" height="18" fill="#fff"/>
<rect x="530" y="316" width="1" height="38" fill="#404040"/>
<rect x="528" y="330" width="5" height="22" fill="#404040"/>
<rect x="538" y="344" width="1" height="28" fill="#404040"/>
<rect x="536" y="351" width="5" height="17" fill="#404040"/>
<rect x="546" y="362" width="1" height="37" fill="#00a8d8"/>
<rect x="544" y="365" width="5" height="3" fill="#00a8d8"/>
<rect x="545" y="366" width="3" height="1" fill="#fff"/>
<rect x="554" y="362" width="1" height="70" fill="#404040"/>
<rect x="552" y="365" width="5" height="54" fill="#404040"/>
<rect x="562" y="408" width="1" height="72" fill="#404040"/>
<rect x="560" y="418" width="5" height="16" fill="#404040"/>
<rect x="570" y="417" width="1" height="35" fill="#00a8d8"/>
<rect x="568" y="423" width="5" height="12" fill="#00a8d8"/>
<rect x="569" y="424" width="3" height="10" fill="#fff"/>
<rect x="578" y="403" width="1" height="41" fill="#00a8d8"/>
<rect x="576" y="406" width="5" height="16" fill="#00a8d8"/>
<rect x="577" y="407" width="3" height="14" fill="#fff"/>
<rect x="586" y="402" width="1" height="32" fill="#404040"/>
<rect x="584" y="406" width="5" height="26" fill="#404040"/>
<rect x="594" y="411" width="1" height="26" fill="#00a8d8"/>
<rect x="592" y="423" width="5" height="9" fill="#00a8d8"/>
<rect x="593" y="424" width="3" height="7" fill="#fff"/>
<rect x="602" y="397" width="1" height="48" fill="#00a8d8"/>
<rect x="600" y="408" width="5" height="16" fill="#00a8d8"/>
<rect x="601" y="409" width="3" height="14" fill="#fff"/>
<rect x="610" y="382" width="1" height="27" fill="#00a8d8"/>
<rect x="608" y="403" width="5" height="6" fill="#00a8d8"/>
<rect x="609" y="404" width="3" height="4" fill="#fff"/>
<rect x="618" y="393" width="1" height="21" fill="#404040"/>
<rect x="616" y="403" width="5" height="8" fill="#404040"/>
<rect x="626" y="397" width="1" height="26" fill="#404040"/>
<rect x="624" y="410" width="5" height="10" fill="#404040"/>
<rect x="634" y="410" width="1" height="23" fill="#00a8d8"/>
<rect x="632" y="414" width="5" height="7" fill="#00a8d8"/>
<rect x="633" y="415" width="3" height="5" fill="#fff"/>
<rect x="642" y="402" width="1" height="22" fill="#404040"/>
<rect x="640" y="414" width="5" height="4" fill="#404040"/>
<rect x="650" y="367" width="1" height="64" fill="#404040"/>
<rect x="648" y="417" width="5" height="5" fill="#404040"/>
<rect x="658" y="407" width="1" height="64" fill="#404040"/>
<rect x="656" y="421" width="5" height="12" fill="#404040"/>
<rect x="666" y="420" width="1" height="27" fill="#404040"/>
<rect x="664" y="432" width="5" height="6" fill="#404040"/>
<rect x="674" y="404" width="1" height="34" fill="#00a8d8"/>
<rect x="672" y="410" width="5" height="28" fill="#00a8d8"/>
<rect x="673" y="411" width="3" height="26" fill="#fff"/>
<rect x="682" y="387" width="1" height="26" fill="#00a8d8"/>
<rect x="680" y="390" width="5" height="21" fill="#00a8d8"/>
<rect x="681" y="391" width="3" height="19" fill="#fff"/>
<rect x="690" y="385" width="1" height="26" fill="#00a8d8"/>
<rect x="688" y="389" width="5" height="2" fill="#00a8d8"/>
<rect x="698" y="378" width="1" height="18" fill="#00a8d8"/>
<rect x="696" y="388" width="5" height="2" fill="#00a8d8"/>
<rect x="706" y="362" width="1" height="28" fill="#00a8d8"/>
<rect x="704" y="376" width="5" height="13" fill="#00a8d8"/>
<rect x="705" y="377" width="3" height="11" fill="#fff"/>
<rect x="714" y="364" width="1" height="18" fill="#404040"/>
<rect x="712" y="376" width="5" height="4" fill="#404040"/>
<rect x="722" y="260" width="1" height="19" fill="#00a8d8"/>
<rect x="720" y="264" width="5" height="10" fill="#00a8d8"/>
<rect x="721" y="265" width="3" height="8" fill="#fff"/>
<rect x="730" y="239" width="1" height="28" fill="#00a8d8"/>
<rect x="728" y="257" width="5" height="8" fill="#00a8d8"/>
<rect x="729" y="258" width="3" height="6" fill="#fff"/>
<rect x="738" y="248" width="1" height="33" fill="#404040"/>
<rect x="736" y="258" width="5" height="7" fill="#404040"/>
<rect x="746" y="248" width="1" height="39" fill="#00a8d8"/>
<rect x="744" y="253" width="5" height="11" fill="#00a8d8"/>
<rect x="745" y="254" width="3" height="9" fill="#fff"/>
<rect x="754" y="204" width="1" height="52" fill="#00a8d8"/>
<rect x="752" y="220" width="5" height="35" fill="#00a8d8"/>
<rect x="753" y="221" width="3" height="33" fill="#fff"/>
<rect x="762" y="209" width="1" height="27" fill="#00a8d8"/>
<rect x="760" y="214" width="5" height="7" fill="#00a8d8"/>
<rect x="761" y="215" width="3" height="5" fill="#fff"/>
<rect x="770" y="207" width="1" height="39" fill="#404040"/>
<rect x="768" y="214" width="5" height="7" fill="#404040"/>
<rect x="778" y="210" width="1" height="35" fill="#00a8d8"/>
<rect x="776" y="213" width="5" height="8" fill="#00a8d8"/>
<rect x="777" y="214" width="3" height="6" fill="#fff"/>
<rect x="786" y="100" width="1" height="118" fill="#00a8d8"/>
<rect x="784" y="112" width="5" height="102" fill="#00a8d8"/>
<rect x="785" y="113" width="3" height="100" fill="#fff"/>
<rect x="794" y="72" width="1" height="63" fill="#00a8d8"/>
<rect x="792" y="81" width="5" height="32" fill="#00a8d8"/>
<rect x="793" y="82" width="3" height="30" fill="#fff"/>
<rect x="802" y="74" width="1" height="50" fill="#00a8d8"/>
<rect x="800" y="75" width="5" height="6" fill="#00a8d8"/>
<rect x="801" y="76" width="3" height="4" fill="#fff"/>
<rect x="810" y="23" width="1" height="54" fill="#00a8d8"/>
<rect x="808" y="54" width="5" height="21" fill="#00a8d8"/>
<rect x="809" y="55" width="3" height="19" fill="#fff"/>
<rect x="818" y="14" width="1" height="53" fill="#00a8d8"/>
<rect x="816" y="41" width="5" height="14" fill="#00a8d8"/>
<rect x="817" y="42" width="3" height="12" fill="#fff"/>
<rect x="826" y="27" width="1" height="80" fill="#404040"/>
<rect x="824" y="41" width="5" height="47" fill="#404040"/>
<rect x="834" y="42" width="1" height="50" fill="#00a8d8"/>
<rect x="832" y="71" width="5" height="17" fill="#00a8d8"/>
<rect x="833" y="72" width="3" height="15" fill="#fff"/>
<rect x="842" y="70" width="1" height="71" fill="#404040"/>
<rect x="840" y="71" width="5" height="58" fill="#404040"/>
<rect x="850" y="128" width="1" height="151" fill="#404040"/>
<rect x="848" y="128" width="5" height="109" fill="#404040"/>
<rect x="858" y="209" width="1" height="70" fill="#00a8d8"/>
<rect x="856" y="214" width="5" height="24" fill="#00a8d8"/>
<rect x="857" y="215" width="3" height="22" fill="#fff"/>
<rect x="866" y="182" width="1" height="54" fill="#00a8d8"/>
<rect x="864" y="190" width="5" height="25" fill="#00a8d8"/>
<rect x="865" y="191" width="3" height="23" fill="#fff"/>
<rect x="874" y="159" width="1" height="52" fill="#00a8d8"/>
<rect x="872" y="170" width="5" height="21" fill="#00a8d8"/>
<rect x="873" y="171" width="3" height="19" fill="#fff"/>
<rect x="882" y="166" width="1" height="90" fill="#404040"/>
<rect x="880" y="170" width="5" height="80" fill="#404040"/>
<rect x="890" y="206" width="1" height="66" fill="#404040"/>
<rect x="888" y="250" width="5" height="10" fill="#404040"/>
<rect x="898" y="242" width="1" height="120" fill="#404040"/>
<rect x="896" y="259" width="5" height="50" fill="#404040"/>
<rect x="906" y="308" width="1" height="86" fill="#404040"/>
<rect x="904" y="308" width="5" height="56" fill="#404040"/>
<rect x="914" y="326" width="1" height="51" fill="#404040"/>
<rect x="912" y="363" width="5" height="9" fill="#404040"/>
<rect x="922" y="371" width="1" height="103" fill="#404040"/>
<rect x="920" y="372" width="5" height="36" fill="#404040"/>
<rect x="930" y="399" width="1" height="26" fill="#404040"/>
<rect x="928" y="407" width="5" height="17" fill="#404040"/>
<rect x="938" y="354" width="1" height="101" fill="#00a8d8"/>
<rect x="936" y="373" width="5" height="51" fill="#00a8d8"/>
<rect x="937" y="374" width="3" height="49" fill="#fff"/>
<rect x="946" y="360" width="1" height="167" fill="#404040"/>
<rect x="944" y="373" width="5" height="54" fill="#404040"/>
<rect x="954" y="403" width="1" height="65" fill="#00a8d8"/>
<rect x="952" y="404" width="5" height="23" fill="#00a8d8"/>
<rect x="953" y="405" width="3" height="21" fill="#fff"/>
<rect x="962" y="384" width="1" height="32" fill="#00a8d8"/>
<rect x="960" y="389" width="5" height="16" fill="#00a8d8"/>
<rect x="961" y="390" width="3" height="14" fill="#fff"/>
<rect x="970" y="510" width="1" height="47" fill="#00a8d8"/>
<rect x="968" y="544" width="5" height="3" fill="#00a8d8"/>
<rect x="969" y="545" width="3" height="1" fill="#fff"/>
<rect x="978" y="517" width="1" height="39" fill="#404040"/>
<rect x="976" y="544" width="5" height="9" fill="#404040"/>
<rect x="986" y="543" width="1" height="51" fill="#404040"/>
<rect x="984" y="552" width="5" height="35" fill="#404040"/>
<rect x="994" y="552" width="1" height="46" fill="#404040"/>
<rect x="992" y="586" width="5" height="6" fill="#404040"/>
<rect x="1002" y="574" width="1" height="82" fill="#404040"/>
<rect x="1000" y="591" width="5" height="20" fill="#404040"/>
<rect x="1010" y="539" width="1" height="80" fill="#00a8d8"/>
<rect x="1008" y="562" width="5" height="49" fill="#00a8d8"/>
<rect x="1009" y="563" width="3" height="47" fill="#fff"/>
<rect x="1018" y="529" width="1" height="53" fill="#00a8d8"/>
<rect x="1016" y="540" width="5" height="23" fill="#00a8d8"/>
<rect x="1017" y="541" width="3" height="21" fill="#fff"/>
<rect x="1026" y="524" width="1" height="38" fill="#404040"/>
<rect x="1024" y="540" width="5" height="6" fill="#404040"/>
<rect x="1034" y="533" width="1" height="41" fill="#404040"/>
<rect x="1032" y="545" width="5" height="9" fill="#404040"/>
<rect x="1042" y="546" width="1" height="69" fill="#404040"/>
<rect x="1040" y="553" width="5" height="43" fill="#404040"/>
<rect x="1050" y="569" width="1" height="56" fill="#00a8d8"/>
<rect x="1048" y="581" width="5" height="15" fill="#00a8d8"/>
<rect x="1049" y="582" width="3" height="13" fill="#fff"/>
<rect x="1058" y="564" width="1" height="56" fill="#404040"/>
<rect x="1056" y="581" width="5" height="30" fill="#404040"/>
<rect x="1066" y="591" width="1" height="58" fill="#00a8d8"/>
<rect x="1064" y="604" width="5" height="7" fill="#00a8d8"/>
<rect x="1065" y="605" width="3" height="5" fill="#fff"/>
<rect x="1074" y="583" width="1" height="36" fill="#404040"/>
<rect x="1072" y="604" width="5" height="12" fill="#404040"/>
<rect x="1082" y="594" width="1" height="32" fill="#00a8d8"/>
<rect x="1080" y="599" width="5" height="18" fill="#00a8d8"/>
<rect x="1081" y="600" width="3" height="16" fill="#fff"/>
<rect x="1090" y="559" width="1" height="41" fill="#00a8d8"/>
<rect x="1088" y="567" width="5" height="32" fill="#00a8d8"/>
<rect x="1089" y="568" width="3" height="30" fill="#fff"/>
<rect x="1098" y="543" width="1" height="27" fill="#00a8d8"/>
<rect x="1096" y="544" width="5" height="24" fill="#00a8d8"/>
<rect x="1097" y="545" width="3" height="22" fill="#fff"/>
<rect x="1106" y="516" width="1" height="39" fill="#00a8d8"/>
<rect x="1104" y="517" width="5" height="28" fill="#00a8d8"/>
<rect x="1105" y="518" width="3" height="26" fill="#fff"/>
<rect x="1114" y="513" width="1" height="29" fill="#404040"/>
<rect x="1112" y="517" width="5" height="9" fill="#404040"/>
<rect x="1122" y="465" width="1" height="85" fill="#00a8d8"/>
<rect x="1120" y="482" width="5" height="44" fill="#00a8d8"/>
<rect x="1121" y="483" width="3" height="42" fill="#fff"/>
<rect x="1130" y="450" width="1" height="36" fill="#00a8d8"/>
<rect x="1128" y="478" width="5" height="6" fill="#00a8d8"/>
<rect x="1129" y="479" width="3" height="4" fill="#fff"/>
<rect x="1138" y="475" width="1" height="32" fill="#404040"/>
<rect x="1136" y="478" width="5" height="18" fill="#404040"/>
<rect x="1146" y="443" width="1" height="59" fill="#00a8d8"/>
<rect x="1144" y="482" width="5" height="14" fill="#00a8d8"/>
<rect x="1145" y="483" width="3" height="12" fill="#fff"/>
<rect x="1154" y="461" width="1" height="45" fill="#404040"/>
<rect x="1152" y="482" width="5" height="14" fill="#404040"/>
<rect x="1162" y="475" width="1" height="30" fill="#00a8d8"/>
<rect x="1160" y="476" width="5" height="20" fill="#00a8d8"/>
<rect x="1161" y="477" width="3" height="18" fill="#fff"/>
<rect x="1170" y="464" width="1" height="38" fill="#404040"/>
<rect x="1168" y="476" width="5" height="24" fill="#404040"/>
<rect x="1178" y="494" width="1" height="34" fill="#404040"/>
<rect x="1176" y="499" width="5" height="4" fill="#404040"/>
<rect x="1186" y="477" width="1" height="28" fill="#00a8d8"/>
<rect x="1184" y="490" width="5" height="13" fill="#00a8d8"/>
<rect x="1185" y="491" width="3" height="11" fill="#fff"/>
<rect x="1194" y="478" width="1" height="30" fill="#00a8d8"/>
<rect x="1192" y="485" width="5" height="6" fill="#00a8d8"/>
<rect x="1193" y="486" width="3" height="4" fill="#fff"/>
<rect x="1202" y="462" width="1" height="32" fill="#00a8d8"/>
<rect x="1200" y="479" width="5" height="7" fill="#00a8d8"/>
<rect x="1201" y="480" width="3" height="5" fill="#fff"/>
<rect x="1210" y="470" width="1" height="18" fill="#00a8d8"/>
<rect x="1208" y="477" width="5" height="3" fill="#00a8d8"/>
<rect x="1209" y="478" width="3" height="1" fill="#fff"/>
<rect x="1218" y="486" width="1" height="23" fill="#00a8d8"/>
<rect x="1216" y="491" width="5" height="17" fill="#00a8d8"/>
<rect x="1217" y="492" width="3" height="15" fill="#fff"/>
<rect x="1226" y="480" width="1" height="49" fill="#00a8d8"/>
<rect x="1224" y="485" width="5" height="8" fill="#00a8d8"/>
<rect x="1225" y="486" width="3" height="6" fill="#fff"/>
<rect x="1234" y="473" width="1" height="31" fill="#00a8d8"/>
<rect x="1232" y="481" width="5" height="5" fill="#00a8d8"/>
<rect x="1233" y="482" width="3" height="3" fill="#fff"/>
<rect x="1242" y="471" width="1" height="35" fill="#404040"/>
<rect x="1240" y="481" width="5" height="3" fill="#404040"/>
<rect x="1250" y="444" width="1" height="45" fill="#00a8d8"/>
<rect x="1248" y="458" width="5" height="26" fill="#00a8d8"/>
<rect x="1249" y="459" width="3" height="24" fill="#fff"/>
<rect x="1258" y="416" width="1" height="48" fill="#00a8d8"/>
<rect x="1256" y="449" width="5" height="10" fill="#00a8d8"/>
<rect x="1257" y="450" width="3" height="8" fill="#fff"/>
<rect x="1266" y="435" width="1" height="34" fill="#404040"/>
<rect x="1264" y="448" width="5" height="17" fill="#404040"/>
<rect x="1274" y="423" width="1" height="44" fill="#00a8d8"/>
<rect x="1272" y="443" width="5" height="21" fill="#00a8d8"/>
<rect x="1273" y="444" width="3" height="19" fill="#fff"/>
<rect x="1282" y="436" width="1" height="28" fill="#404040"/>
<rect x="1280" y="443" width="5" height="9" fill="#404040"/>
<rect x="1290" y="436" width="1" height="46" fill="#00a8d8"/>
<rect x="1288" y="441" width="5" height="12" fill="#00a8d8"/>
<rect x="1289" y="442" width="3" height="10" fill="#fff"/>
<rect x="1298" y="437" width="1" height="64" fill="#404040"/>
<rect x="1296" y="441" width="5" height="55" fill="#404040"/>
<rect x="1306" y="475" width="1" height="28" fill="#00a8d8"/>
<rect x="1304" y="495" width="5" height="1" fill="#00a8d8"/>
<rect x="1314" y="479" width="1" height="23" fill="#00a8d8"/>
<rect x="1312" y="491" width="5" height="5" fill="#00a8d8"/>
<rect x="1313" y="492" width="3" height="3" fill="#fff"/>
<rect x="1322" y="491" width="1" height="42" fill="#404040"/>
<rect x="1320" y="491" width="5" height="24" fill="#404040"/>
<rect x="1330" y="491" width="1" height="34" fill="#00a8d8"/>
<rect x="1328" y="495" width="5" height="20" fill="#00a8d8"/>
<rect x="1329" y="496" width="3" height="18" fill="#fff"/>
<rect x="1338" y="485" width="1" height="23" fill="#404040"/>
<rect x="1336" y="495" width="5" height="11" fill="#404040"/>
<rect x="1346" y="470" width="1" height="37" fill="#00a8d8"/>
<rect x="1344" y="485" width="5" height="21" fill="#00a8d8"/>
<rect x="1345" y="486" width="3" height="19" fill="#fff"/>
<rect x="1354" y="459" width="1" height="36" fill="#404040"/>
<rect x="1352" y="485" width="5" height="2" fill="#404040"/>
<rect x="1362" y="478" width="1" height="19" fill="#00a8d8"/>
<rect x="1360" y="479" width="5" height="8" fill="#00a8d8"/>
<rect x="1361" y="480" width="3" height="6" fill="#fff"/>
<rect x="1370" y="415" width="1" height="84" fill="#00a8d8"/>
<rect x="1368" y="433" width="5" height="47" fill="#00a8d8"/>
<rect x="1369" y="434" width="3" height="45" fill="#fff"/>
<rect x="1378" y="427" width="1" height="22" fill="#404040"/>
<rect x="1376" y="433" width="5" height="6" fill="#404040"/>
<rect x="1386" y="424" width="1" height="32" fill="#00a8d8"/>
<rect x="1384" y="435" width="5" height="4" fill="#00a8d8"/>
<rect x="1385" y="436" width="3" height="2" fill="#fff"/>
<rect x="1394" y="416" width="1" height="35" fill="#00a8d8"/>
<rect x="1392" y="431" width="5" height="5" fill="#00a8d8"/>
<rect x="1393" y="432" width="3" height="3" fill="#fff"/>
<rect x="1402" y="400" width="1" height="40" fill="#00a8d8"/>
<rect x="1400" y="406" width="5" height="26" fill="#00a8d8"/>
<rect x="1401" y="407" width="3" height="24" fill="#fff"/>
<rect x="1410" y="380" width="1" height="31" fill="#00a8d8"/>
<rect x="1408" y="405" width="5" height="2" fill="#00a8d8"/>
<rect x="1418" y="384" width="1" height="29" fill="#404040"/>
<rect x="1416" y="405" width="5" height="1" fill="#404040"/>
<rect x="1426" y="400" width="1" height="27" fill="#00a8d8"/>
<rect x="1424" y="402" width="5" height="5" fill="#00a8d8"/>
<rect x="1425" y="403" width="3" height="3" fill="#fff"/>
<rect x="1434" y="399" width="1" height="20" fill="#404040"/>
<rect x="1432" y="402" width="5" height="10" fill="#404040"/>
<rect x="1442" y="405" width="1" height="19" fill="#404040"/>
<rect x="1440" y="411" width="5" height="3" fill="#404040"/>
<rect x="1450" y="412" width="1" height="41" fill="#404040"/>
<rect x="1448" y="413" width="5" height="23" fill="#404040"/>
<rect x="1458" y="425" width="1" height="20" fill="#00a8d8"/>
<rect x="1456" y="433" width="5" height="3" fill="#00a8d8"/>
<rect x="1457" y="434" width="3" height="1" fill="#fff"/>
<rect x="1466" y="469" width="1" height="24" fill="#00a8d8"/>
<rect x="1464" y="475" width="5" height="6" fill="#00a8d8"/>
<rect x="1465" y="476" width="3" height="4" fill="#fff"/>
<rect x="1474" y="448" width="1" height="31" fill="#00a8d8"/>
<rect x="1472" y="458" width="5" height="18" fill="#00a8d8"/>
<rect x="1473" y="459" width="3" height="16" fill="#fff"/>
<rect x="1482" y="450" width="1" height="12" fill="#404040"/>
<rect x="1480" y="458" width="5" height="1" fill="#404040"/>
<rect x="1490" y="456" width="1" height="81" fill="#404040"/>
<rect x="1488" y="458" width="5" height="67" fill="#404040"/>
</g>
<line x1="818.8" y1="14.7" x2="1698.4" y2="556" stroke="#0aa9da" stroke-width="2.4"/>
<path d="M1539.6,448.5 C1551,423 1571,383 1581,381.2 C1590,380 1586,436 1596.2,435.4 C1608,435 1622,398 1631,373 L1664.3,288" fill="none" stroke="#4a5764" stroke-width="2" stroke-linecap="round"/>
<polygon points="1667.8,280 1659.3,287.6 1668.6,291.4" fill="#4a5764"/>
<path d="M1505.1,536.7 L1522,578 C1531,598 1541,625 1549.3,625.2 C1558,625 1559,587 1568.5,586 C1575,586 1583,604 1590,621 L1602.5,651.5" fill="none" stroke="#12a8d6" stroke-width="2.2" stroke-linecap="round"/>
<polygon points="1605.4,658.6 1597.6,651.4 1606.8,648" fill="#12a8d6"/>
</g>
<text x="222.4" y="328.0" font-size="15" font-weight="bold" fill="#ffd500" textLength="50.5" lengthAdjust="spacingAndGlyphs">21 EMA</text>
<text x="264.5" y="370.0" font-size="15" font-weight="bold" fill="#ff0000" textLength="50.3" lengthAdjust="spacingAndGlyphs">50 EMA</text>
<text x="283.9" y="473.0" font-size="15" font-weight="bold" fill="#00f01e" textLength="58.2" lengthAdjust="spacingAndGlyphs">100 EMA</text>
<text x="350.5" y="606.2" font-size="15" font-weight="bold" fill="#000000" textLength="58.6" lengthAdjust="spacingAndGlyphs">200 EMA</text>
<text x="1775.1" y="275.1" font-size="15" font-weight="bold" fill="#4f5f6e" textLength="32.0" lengthAdjust="spacingAndGlyphs"><tspan dy="-3">~</tspan><tspan dy="3">419</tspan></text>
<text x="1738.2" y="299.1" font-size="15" font-weight="bold" fill="#4f5f6e" textLength="31.4" lengthAdjust="spacingAndGlyphs"><tspan dy="-3">~</tspan><tspan dy="3">417</tspan></text>
<text x="1762.2" y="377.2" font-size="15" font-weight="bold" fill="#4f5f6e" textLength="31.8" lengthAdjust="spacingAndGlyphs"><tspan dy="-3">~</tspan><tspan dy="3">393</tspan></text>
<text x="1764.1" y="447.1" font-size="15" font-weight="bold" fill="#4f5f6e" textLength="32.0" lengthAdjust="spacingAndGlyphs"><tspan dy="-3">~</tspan><tspan dy="3">375</tspan></text>
<text x="1766.2" y="488.1" font-size="15" font-weight="bold" fill="#4f5f6e" textLength="31.9" lengthAdjust="spacingAndGlyphs"><tspan dy="-3">~</tspan><tspan dy="3">364</tspan></text>
<text x="1766.1" y="530.0" font-size="15" font-weight="bold" fill="#14b1de" textLength="31.8" lengthAdjust="spacingAndGlyphs"><tspan dy="-3">~</tspan><tspan dy="3">353</tspan></text>
<text x="1768.1" y="583.2" font-size="15" font-weight="bold" fill="#14b1de" textLength="32.2" lengthAdjust="spacingAndGlyphs"><tspan dy="-3">~</tspan><tspan dy="3">340</tspan></text>
<text x="1769.1" y="624.1" font-size="15" font-weight="bold" fill="#14b1de" textLength="31.7" lengthAdjust="spacingAndGlyphs"><tspan dy="-3">~</tspan><tspan dy="3">329</tspan></text>
<text x="1771.2" y="652.9" font-size="15" font-weight="bold" fill="#14b1de" textLength="31.8" lengthAdjust="spacingAndGlyphs"><tspan dy="-3">~</tspan><tspan dy="3">321</tspan></text>
<g fill="url(#lg)" font-weight="bold">
<text transform="translate(287.2,0) scale(1.1,1)" x="0" y="64.3" font-size="50" style="font-family:'DejaVu Sans',sans-serif">J</text>
<text transform="translate(306.6,0) scale(0.9,1)" x="0" y="73.8" font-size="65.4" stroke="url(#lg)" stroke-width="1">F</text>
<text transform="translate(339.0,0) scale(0.95,1)" x="0" y="73.8" font-size="65.4" stroke="url(#lg)" stroke-width="1">D</text>
</g>
<rect x="341.2" y="26" width="10.4" height="50" fill="#fff"/>
<rect x="347" y="28.3" width="2.1" height="46" fill="#414954"/>
<rect x="344.6" y="44.2" width="7" height="14.3" fill="#3a434e"/>
<g clip-path="url(#cr)">
<line x1="2" y1="688.5" x2="1863" y2="688.5" stroke="#c0c0c0" stroke-width="1" stroke-dasharray="3 3" shape-rendering="crispEdges"/>
<line x1="2" y1="763.5" x2="1863" y2="763.5" stroke="#c0c0c0" stroke-width="1" stroke-dasharray="3 3" shape-rendering="crispEdges"/>
<polyline points="2.5,720.6 10.5,717.6 18.5,716.4 26.5,717.6 34.5,716.4 42.5,721.9 50.5,723.6 58.5,730.1 66.5,734.4 74.5,740.2 82.5,741.4 90.5,740.2 98.5,727.1 106.5,725.4 114.5,727.4 122.5,724.4 130.5,718.6 138.5,718.6 146.5,723.1 154.5,718.4 162.5,718.4 170.5,696.3 178.5,697.6 186.5,697.6 194.5,696.3 202.5,695.1 210.5,688.8 218.5,696.3 226.5,700.1 234.5,709.3 242.5,711.6 250.5,710.1 258.5,706.3 266.5,703.3 274.5,702.6 282.5,709.3 290.5,712.6 298.5,711.4 306.5,722.1 314.5,721.1 322.5,719.4 330.5,724.4 338.5,735.9 346.5,732.1 354.5,735.2 362.5,738.4 370.5,735.7 378.5,734.4 386.5,734.4 394.5,732.6 402.5,725.6 410.5,723.4 418.5,725.6 426.5,730.6 434.5,727.1 442.5,733.4 450.5,736.4 458.5,743.2 466.5,745.7 474.5,748.4 482.5,749.4 490.5,740.9 498.5,728.1 506.5,731.4 514.5,732.6 522.5,725.6 530.5,731.9 538.5,736.4 546.5,735.2 554.5,747.2 562.5,749.4 570.5,745.2 578.5,739.7 586.5,744.4 594.5,742.2 602.5,737.2 610.5,735.2 618.5,737.2 626.5,739.4 634.5,737.4 642.5,738.4 650.5,739.7 658.5,742.2 666.5,743.4 674.5,731.4 682.5,724.6 690.5,724.6 698.5,724.4 706.5,719.6 714.5,720.6 722.5,695.6 730.5,694.3 738.5,696.6 746.5,695.1 754.5,691.3 762.5,690.8 770.5,693.3 778.5,692.1 786.5,682.0 794.5,680.3 802.5,680.0 810.5,679.0 818.5,678.3 826.5,694.6 834.5,693.3 842.5,710.1 850.5,728.9 858.5,725.1 866.5,722.1 874.5,719.4 882.5,731.4 890.5,733.1 898.5,738.9 906.5,744.4 914.5,745.7 922.5,748.4 930.5,750.4 938.5,740.7 946.5,746.4 954.5,742.7 962.5,739.7 970.5,752.2 978.5,753.4 986.5,755.2 994.5,756.4 1002.5,757.7 1010.5,748.2 1018.5,744.4 1026.5,744.4 1034.5,745.7 1042.5,749.4 1050.5,746.4 1058.5,749.4 1066.5,748.4 1074.5,749.4 1082.5,745.7 1090.5,738.2 1098.5,733.9 1106.5,728.1 1114.5,730.6 1122.5,722.1 1130.5,721.4 1138.5,725.4 1146.5,722.4 1154.5,725.4 1162.5,721.4 1170.5,726.4 1178.5,727.6 1186.5,724.6 1194.5,723.4 1202.5,721.4 1210.5,721.4 1218.5,725.4 1226.5,723.4 1234.5,722.4 1242.5,723.6 1250.5,716.4 1258.5,714.4 1266.5,719.4 1274.5,713.4 1282.5,716.4 1290.5,714.4 1298.5,730.6 1306.5,730.6 1314.5,729.4 1322.5,735.2 1330.5,729.4 1338.5,732.6 1346.5,726.6 1354.5,726.4 1362.5,724.4 1370.5,711.4 1378.5,713.8 1386.5,712.4 1394.5,711.2 1402.5,706.7 1410.5,705.5 1418.5,706.5 1426.5,705.5 1434.5,709.4 1442.5,710.5 1450.5,720.5 1458.5,720.5 1466.5,735.4 1474.5,728.3 1482.5,729.4 1490.5,745.6" fill="none" stroke="#12a8d6" stroke-width="1" shape-rendering="crispEdges" />
</g>
<g clip-path="url(#cd)">
<g shape-rendering="crispEdges">
<rect x="2" y="837" width="1" height="9" fill="#12a8d6"/>
<rect x="10" y="838" width="1" height="8" fill="#12a8d6"/>
<rect x="18" y="838" width="1" height="8" fill="#12a8d6"/>
<rect x="26" y="838" width="1" height="8" fill="#12a8d6"/>
<rect x="34" y="838" width="1" height="8" fill="#12a8d6"/>
<rect x="42" y="839" width="1" height="7" fill="#12a8d6"/>
<rect x="50" y="840" width="1" height="6" fill="#12a8d6"/>
<rect x="58" y="841" width="1" height="5" fill="#12a8d6"/>
<rect x="66" y="843" width="1" height="3" fill="#12a8d6"/>
<rect x="82" y="847" width="1" height="4" fill="#12a8d6"/>
<rect x="90" y="847" width="1" height="5" fill="#12a8d6"/>
<rect x="98" y="847" width="1" height="5" fill="#12a8d6"/>
<rect x="106" y="847" width="1" height="4" fill="#12a8d6"/>
<rect x="114" y="847" width="1" height="4" fill="#12a8d6"/>
<rect x="122" y="847" width="1" height="4" fill="#12a8d6"/>
<rect x="130" y="847" width="1" height="2" fill="#12a8d6"/>
<rect x="138" y="847" width="1" height="1" fill="#12a8d6"/>
<rect x="154" y="845" width="1" height="1" fill="#12a8d6"/>
<rect x="162" y="844" width="1" height="2" fill="#12a8d6"/>
<rect x="170" y="838" width="1" height="8" fill="#12a8d6"/>
<rect x="178" y="834" width="1" height="12" fill="#12a8d6"/>
<rect x="186" y="831" width="1" height="15" fill="#12a8d6"/>
<rect x="194" y="828" width="1" height="18" fill="#12a8d6"/>
<rect x="202" y="826" width="1" height="20" fill="#12a8d6"/>
<rect x="210" y="821" width="1" height="25" fill="#12a8d6"/>
<rect x="218" y="819" width="1" height="27" fill="#12a8d6"/>
<rect x="226" y="819" width="1" height="27" fill="#12a8d6"/>
<rect x="234" y="820" width="1" height="26" fill="#12a8d6"/>
<rect x="242" y="821" width="1" height="25" fill="#12a8d6"/>
<rect x="250" y="822" width="1" height="24" fill="#12a8d6"/>
<rect x="258" y="822" width="1" height="24" fill="#12a8d6"/>
<rect x="266" y="821" width="1" height="25" fill="#12a8d6"/>
<rect x="274" y="821" width="1" height="25" fill="#12a8d6"/>
<rect x="282" y="822" width="1" height="24" fill="#12a8d6"/>
<rect x="290" y="824" width="1" height="22" fill="#12a8d6"/>
<rect x="298" y="825" width="1" height="21" fill="#12a8d6"/>
<rect x="306" y="828" width="1" height="18" fill="#12a8d6"/>
<rect x="314" y="830" width="1" height="16" fill="#12a8d6"/>
<rect x="322" y="831" width="1" height="15" fill="#12a8d6"/>
<rect x="330" y="834" width="1" height="12" fill="#12a8d6"/>
<rect x="338" y="838" width="1" height="8" fill="#12a8d6"/>
<rect x="346" y="840" width="1" height="6" fill="#12a8d6"/>
<rect x="354" y="843" width="1" height="3" fill="#12a8d6"/>
<rect x="370" y="847" width="1" height="3" fill="#12a8d6"/>
<rect x="378" y="847" width="1" height="4" fill="#12a8d6"/>
<rect x="386" y="847" width="1" height="5" fill="#12a8d6"/>
<rect x="394" y="847" width="1" height="5" fill="#12a8d6"/>
<rect x="402" y="847" width="1" height="5" fill="#12a8d6"/>
<rect x="410" y="847" width="1" height="4" fill="#12a8d6"/>
<rect x="418" y="847" width="1" height="3" fill="#12a8d6"/>
<rect x="426" y="847" width="1" height="3" fill="#12a8d6"/>
<rect x="434" y="847" width="1" height="3" fill="#12a8d6"/>
<rect x="442" y="847" width="1" height="3" fill="#12a8d6"/>
<rect x="450" y="847" width="1" height="5" fill="#12a8d6"/>
<rect x="458" y="847" width="1" height="7" fill="#12a8d6"/>
<rect x="466" y="847" width="1" height="9" fill="#12a8d6"/>
<rect x="474" y="847" width="1" height="12" fill="#12a8d6"/>
<rect x="482" y="847" width="1" height="13" fill="#12a8d6"/>
<rect x="490" y="847" width="1" height="13" fill="#12a8d6"/>
<rect x="498" y="847" width="1" height="12" fill="#12a8d6"/>
<rect x="506" y="847" width="1" height="10" fill="#12a8d6"/>
<rect x="514" y="847" width="1" height="10" fill="#12a8d6"/>
<rect x="522" y="847" width="1" height="9" fill="#12a8d6"/>
<rect x="530" y="847" width="1" height="9" fill="#12a8d6"/>
<rect x="538" y="847" width="1" height="9" fill="#12a8d6"/>
<rect x="546" y="847" width="1" height="10" fill="#12a8d6"/>
<rect x="554" y="847" width="1" height="12" fill="#12a8d6"/>
<rect x="562" y="847" width="1" height="14" fill="#12a8d6"/>
<rect x="570" y="847" width="1" height="15" fill="#12a8d6"/>
<rect x="578" y="847" width="1" height="15" fill="#12a8d6"/>
<rect x="586" y="847" width="1" height="16" fill="#12a8d6"/>
<rect x="594" y="847" width="1" height="16" fill="#12a8d6"/>
<rect x="602" y="847" width="1" height="15" fill="#12a8d6"/>
<rect x="610" y="847" width="1" height="15" fill="#12a8d6"/>
<rect x="618" y="847" width="1" height="14" fill="#12a8d6"/>
<rect x="626" y="847" width="1" height="14" fill="#12a8d6"/>
<rect x="634" y="847" width="1" height="14" fill="#12a8d6"/>
<rect x="642" y="847" width="1" height="14" fill="#12a8d6"/>
<rect x="650" y="847" width="1" height="13" fill="#12a8d6"/>
<rect x="658" y="847" width="1" height="14" fill="#12a8d6"/>
<rect x="666" y="847" width="1" height="14" fill="#12a8d6"/>
<rect x="674" y="847" width="1" height="13" fill="#12a8d6"/>
<rect x="682" y="847" width="1" height="10" fill="#12a8d6"/>
<rect x="690" y="847" width="1" height="9" fill="#12a8d6"/>
<rect x="698" y="847" width="1" height="7" fill="#12a8d6"/>
<rect x="706" y="847" width="1" height="5" fill="#12a8d6"/>
<rect x="714" y="847" width="1" height="4" fill="#12a8d6"/>
<rect x="722" y="843" width="1" height="3" fill="#12a8d6"/>
<rect x="730" y="838" width="1" height="8" fill="#12a8d6"/>
<rect x="738" y="835" width="1" height="11" fill="#12a8d6"/>
<rect x="746" y="831" width="1" height="15" fill="#12a8d6"/>
<rect x="754" y="828" width="1" height="18" fill="#12a8d6"/>
<rect x="762" y="825" width="1" height="21" fill="#12a8d6"/>
<rect x="770" y="823" width="1" height="23" fill="#12a8d6"/>
<rect x="778" y="821" width="1" height="25" fill="#12a8d6"/>
<rect x="786" y="816" width="1" height="30" fill="#12a8d6"/>
<rect x="794" y="811" width="1" height="35" fill="#12a8d6"/>
<rect x="802" y="807" width="1" height="39" fill="#12a8d6"/>
<rect x="810" y="803" width="1" height="43" fill="#12a8d6"/>
<rect x="818" y="800" width="1" height="46" fill="#12a8d6"/>
<rect x="826" y="800" width="1" height="46" fill="#12a8d6"/>
<rect x="834" y="801" width="1" height="45" fill="#12a8d6"/>
<rect x="842" y="804" width="1" height="42" fill="#12a8d6"/>
<rect x="850" y="811" width="1" height="35" fill="#12a8d6"/>
<rect x="858" y="817" width="1" height="29" fill="#12a8d6"/>
<rect x="866" y="820" width="1" height="26" fill="#12a8d6"/>
<rect x="874" y="823" width="1" height="23" fill="#12a8d6"/>
<rect x="882" y="828" width="1" height="18" fill="#12a8d6"/>
<rect x="890" y="833" width="1" height="13" fill="#12a8d6"/>
<rect x="898" y="839" width="1" height="7" fill="#12a8d6"/>
<rect x="906" y="847" width="1" height="1" fill="#12a8d6"/>
<rect x="914" y="847" width="1" height="8" fill="#12a8d6"/>
<rect x="922" y="847" width="1" height="14" fill="#12a8d6"/>
<rect x="930" y="847" width="1" height="20" fill="#12a8d6"/>
<rect x="938" y="847" width="1" height="22" fill="#12a8d6"/>
<rect x="946" y="847" width="1" height="25" fill="#12a8d6"/>
<rect x="954" y="847" width="1" height="27" fill="#12a8d6"/>
<rect x="962" y="847" width="1" height="27" fill="#12a8d6"/>
<rect x="970" y="847" width="1" height="34" fill="#12a8d6"/>
<rect x="978" y="847" width="1" height="38" fill="#12a8d6"/>
<rect x="986" y="847" width="1" height="45" fill="#12a8d6"/>
<rect x="994" y="847" width="1" height="49" fill="#12a8d6"/>
<rect x="1002" y="847" width="1" height="52" fill="#12a8d6"/>
<rect x="1010" y="847" width="1" height="52" fill="#12a8d6"/>
<rect x="1018" y="847" width="1" height="50" fill="#12a8d6"/>
<rect x="1026" y="847" width="1" height="48" fill="#12a8d6"/>
<rect x="1034" y="847" width="1" height="47" fill="#12a8d6"/>
<rect x="1042" y="847" width="1" height="47" fill="#12a8d6"/>
<rect x="1050" y="847" width="1" height="46" fill="#12a8d6"/>
<rect x="1058" y="847" width="1" height="45" fill="#12a8d6"/>
<rect x="1066" y="847" width="1" height="46" fill="#12a8d6"/>
<rect x="1074" y="847" width="1" height="45" fill="#12a8d6"/>
<rect x="1082" y="847" width="1" height="43" fill="#12a8d6"/>
<rect x="1090" y="847" width="1" height="40" fill="#12a8d6"/>
<rect x="1098" y="847" width="1" height="36" fill="#12a8d6"/>
<rect x="1106" y="847" width="1" height="31" fill="#12a8d6"/>
<rect x="1114" y="847" width="1" height="28" fill="#12a8d6"/>
<rect x="1122" y="847" width="1" height="23" fill="#12a8d6"/>
<rect x="1130" y="847" width="1" height="18" fill="#12a8d6"/>
<rect x="1138" y="847" width="1" height="15" fill="#12a8d6"/>
<rect x="1146" y="847" width="1" height="11" fill="#12a8d6"/>
<rect x="1154" y="847" width="1" height="10" fill="#12a8d6"/>
<rect x="1162" y="847" width="1" height="8" fill="#12a8d6"/>
<rect x="1170" y="847" width="1" height="7" fill="#12a8d6"/>
<rect x="1178" y="847" width="1" height="6" fill="#12a8d6"/>
<rect x="1186" y="847" width="1" height="5" fill="#12a8d6"/>
<rect x="1194" y="847" width="1" height="4" fill="#12a8d6"/>
<rect x="1202" y="847" width="1" height="3" fill="#12a8d6"/>
<rect x="1210" y="847" width="1" height="2" fill="#12a8d6"/>
<rect x="1218" y="847" width="1" height="1" fill="#12a8d6"/>
<rect x="1226" y="847" width="1" height="1" fill="#12a8d6"/>
<rect x="1242" y="845" width="1" height="1" fill="#12a8d6"/>
<rect x="1250" y="844" width="1" height="2" fill="#12a8d6"/>
<rect x="1258" y="843" width="1" height="3" fill="#12a8d6"/>
<rect x="1266" y="842" width="1" height="4" fill="#12a8d6"/>
<rect x="1274" y="841" width="1" height="5" fill="#12a8d6"/>
<rect x="1282" y="840" width="1" height="6" fill="#12a8d6"/>
<rect x="1290" y="840" width="1" height="6" fill="#12a8d6"/>
<rect x="1298" y="843" width="1" height="3" fill="#12a8d6"/>
<rect x="1306" y="844" width="1" height="2" fill="#12a8d6"/>
<rect x="1314" y="845" width="1" height="1" fill="#12a8d6"/>
<rect x="1330" y="847" width="1" height="1" fill="#12a8d6"/>
<rect x="1338" y="847" width="1" height="2" fill="#12a8d6"/>
<rect x="1346" y="847" width="1" height="2" fill="#12a8d6"/>
<rect x="1354" y="847" width="1" height="1" fill="#12a8d6"/>
<rect x="1362" y="847" width="1" height="1" fill="#12a8d6"/>
<rect x="1378" y="843" width="1" height="3" fill="#12a8d6"/>
<rect x="1386" y="841" width="1" height="5" fill="#12a8d6"/>
<rect x="1394" y="840" width="1" height="6" fill="#12a8d6"/>
<rect x="1402" y="838" width="1" height="8" fill="#12a8d6"/>
<rect x="1410" y="837" width="1" height="9" fill="#12a8d6"/>
<rect x="1418" y="836" width="1" height="10" fill="#12a8d6"/>
<rect x="1426" y="835" width="1" height="11" fill="#12a8d6"/>
<rect x="1434" y="835" width="1" height="11" fill="#12a8d6"/>
<rect x="1442" y="835" width="1" height="11" fill="#12a8d6"/>
<rect x="1450" y="836" width="1" height="10" fill="#12a8d6"/>
<rect x="1458" y="838" width="1" height="8" fill="#12a8d6"/>
<rect x="1466" y="840" width="1" height="6" fill="#12a8d6"/>
<rect x="1474" y="841" width="1" height="5" fill="#12a8d6"/>
<rect x="1482" y="843" width="1" height="3" fill="#12a8d6"/>
</g>
<polyline points="2.5,834.3 10.5,835.8 18.5,837.3 26.5,837.8 34.5,838.1 42.5,838.1 50.5,838.4 58.5,838.9 66.5,839.6 74.5,840.6 82.5,841.9 90.5,843.1 98.5,844.4 106.5,845.6 114.5,846.9 122.5,847.9 130.5,848.6 138.5,848.6 146.5,848.6 154.5,848.4 162.5,847.4 170.5,846.1 178.5,844.4 186.5,842.4 194.5,840.6 202.5,838.1 210.5,834.8 218.5,831.8 226.5,828.8 234.5,826.1 242.5,824.3 250.5,823.3 258.5,822.3 266.5,821.3 274.5,821.3 282.5,821.3 290.5,821.3 298.5,822.3 306.5,823.3 314.5,824.6 322.5,825.6 330.5,826.8 338.5,828.6 346.5,830.6 354.5,833.3 362.5,835.6 370.5,838.1 378.5,840.6 386.5,842.6 394.5,844.4 402.5,846.1 410.5,847.4 418.5,848.1 426.5,849.1 434.5,849.4 442.5,849.4 450.5,849.6 458.5,850.6 466.5,850.6 474.5,851.4 482.5,852.1 490.5,853.1 498.5,854.1 506.5,855.1 514.5,855.6 522.5,856.1 530.5,856.1 538.5,856.4 546.5,856.4 554.5,856.4 562.5,856.4 570.5,856.4 578.5,856.6 586.5,857.6 594.5,858.9 602.5,859.9 610.5,860.4 618.5,860.4 626.5,860.4 634.5,860.4 642.5,860.4 650.5,860.4 658.5,860.4 666.5,859.9 674.5,859.4 682.5,858.6 690.5,858.1 698.5,857.4 706.5,856.4 714.5,855.1 722.5,853.1 730.5,850.6 738.5,848.1 746.5,845.6 754.5,842.1 762.5,839.1 770.5,836.1 778.5,833.1 786.5,829.3 794.5,825.6 802.5,821.8 810.5,818.1 818.5,814.8 826.5,811.8 834.5,809.3 842.5,807.3 850.5,806.3 858.5,806.3 866.5,807.5 874.5,810.0 882.5,813.1 890.5,816.8 898.5,821.8 906.5,826.8 914.5,831.8 922.5,836.8 930.5,842.4 938.5,847.4 946.5,851.9 954.5,856.1 962.5,860.1 970.5,864.9 978.5,869.4 986.5,873.7 994.5,877.4 1002.5,880.7 1010.5,884.4 1018.5,887.4 1026.5,889.5 1034.5,891.5 1042.5,893.2 1050.5,893.5 1058.5,894.2 1066.5,893.5 1074.5,893.2 1082.5,891.5 1090.5,890.0 1098.5,888.7 1106.5,886.9 1114.5,885.2 1122.5,882.7 1130.5,879.4 1138.5,875.7 1146.5,871.9 1154.5,868.7 1162.5,865.2 1170.5,861.9 1178.5,859.4 1186.5,857.4 1194.5,855.1 1202.5,853.1 1210.5,851.4 1218.5,850.1 1226.5,849.1 1234.5,848.4 1242.5,848.1 1250.5,847.4 1258.5,846.4 1266.5,845.6 1274.5,845.1 1282.5,844.6 1290.5,843.6 1298.5,842.4 1306.5,842.4 1314.5,842.4 1322.5,842.4 1330.5,843.1 1338.5,843.4 1346.5,844.4 1354.5,845.4 1362.5,846.4 1370.5,846.4 1378.5,846.5 1386.5,845.8 1394.5,844.9 1402.5,844.3 1410.5,843.2 1418.5,842.2 1426.5,840.6 1434.5,839.5 1442.5,838.6 1450.5,837.6 1458.5,837.6 1466.5,837.6 1474.5,837.6 1482.5,837.6 1490.5,839.0" fill="none" stroke="#000" stroke-width="1" shape-rendering="crispEdges" />
</g>
<g shape-rendering="crispEdges" fill="#404040">
<rect x="2" y="2" width="1862" height="1"/>
<rect x="2" y="2" width="1" height="906"/>
<rect x="1863" y="2" width="1" height="906"/>
<rect x="2" y="661" width="1862" height="1"/>
<rect x="2" y="663" width="1862" height="1"/>
<rect x="2" y="788" width="1862" height="1"/>
<rect x="2" y="790" width="1862" height="1"/>
<rect x="2" y="907" width="1862" height="1"/>
<rect x="1864" y="20" width="4" height="1"/>
<rect x="1864" y="52" width="4" height="1"/>
<rect x="1864" y="84" width="4" height="1"/>
<rect x="1864" y="116" width="4" height="1"/>
<rect x="1864" y="148" width="4" height="1"/>
<rect x="1864" y="180" width="4" height="1"/>
<rect x="1864" y="212" width="4" height="1"/>
<rect x="1864" y="245" width="4" height="1"/>
<rect x="1864" y="277" width="4" height="1"/>
<rect x="1864" y="309" width="4" height="1"/>
<rect x="1864" y="341" width="4" height="1"/>
<rect x="1864" y="373" width="4" height="1"/>
<rect x="1864" y="405" width="4" height="1"/>
<rect x="1864" y="437" width="4" height="1"/>
<rect x="1864" y="469" width="4" height="1"/>
<rect x="1864" y="501" width="4" height="1"/>
<rect x="1864" y="533" width="4" height="1"/>
<rect x="1864" y="565" width="4" height="1"/>
<rect x="1864" y="597" width="4" height="1"/>
<rect x="1864" y="630" width="4" height="1"/>
<rect x="1864" y="664" width="4" height="1"/>
<rect x="1864" y="688" width="4" height="1"/>
<rect x="1864" y="763" width="4" height="1"/>
<rect x="1864" y="787" width="4" height="1"/>
<rect x="1864" y="791" width="4" height="1"/>
<rect x="1864" y="906" width="4" height="1"/>
<rect x="2" y="907" width="1" height="4"/>
<rect x="66" y="907" width="1" height="4"/>
<rect x="130" y="907" width="1" height="4"/>
<rect x="194" y="907" width="1" height="4"/>
<rect x="258" y="907" width="1" height="4"/>
<rect x="322" y="907" width="1" height="4"/>
<rect x="386" y="907" width="1" height="4"/>
<rect x="450" y="907" width="1" height="4"/>
<rect x="514" y="907" width="1" height="4"/>
<rect x="578" y="907" width="1" height="4"/>
<rect x="642" y="907" width="1" height="4"/>
<rect x="706" y="907" width="1" height="4"/>
<rect x="770" y="907" width="1" height="4"/>
<rect x="834" y="907" width="1" height="4"/>
<rect x="898" y="907" width="1" height="4"/>
<rect x="962" y="907" width="1" height="4"/>
<rect x="1026" y="907" width="1" height="4"/>
<rect x="1090" y="907" width="1" height="4"/>
<rect x="1154" y="907" width="1" height="4"/>
<rect x="1218" y="907" width="1" height="4"/>
<rect x="1282" y="907" width="1" height="4"/>
<rect x="1346" y="907" width="1" height="4"/>
<rect x="1410" y="907" width="1" height="4"/>
<rect x="1474" y="907" width="1" height="4"/>
</g>
<text x="1869.0" y="24.0" font-size="10" fill="#222" textLength="32.0" lengthAdjust="spacingAndGlyphs">485.790</text>
<text x="1869.0" y="56.0" font-size="10" fill="#222" textLength="32.0" lengthAdjust="spacingAndGlyphs">477.500</text>
<text x="1869.0" y="88.0" font-size="10" fill="#222" textLength="32.0" lengthAdjust="spacingAndGlyphs">469.210</text>
<text x="1869.0" y="120.0" font-size="10" fill="#222" textLength="32.0" lengthAdjust="spacingAndGlyphs">460.920</text>
<text x="1869.0" y="152.0" font-size="10" fill="#222" textLength="32.0" lengthAdjust="spacingAndGlyphs">452.630</text>
<text x="1869.0" y="184.0" font-size="10" fill="#222" textLength="32.0" lengthAdjust="spacingAndGlyphs">444.340</text>
<text x="1869.0" y="216.0" font-size="10" fill="#222" textLength="32.0" lengthAdjust="spacingAndGlyphs">436.050</text>
<text x="1869.0" y="249.0" font-size="10" fill="#222" textLength="32.0" lengthAdjust="spacingAndGlyphs">427.760</text>
<text x="1869.0" y="281.0" font-size="10" fill="#222" textLength="32.0" lengthAdjust="spacingAndGlyphs">419.470</text>
<text x="1869.0" y="313.0" font-size="10" fill="#222" textLength="32.0" lengthAdjust="spacingAndGlyphs">411.180</text>
<text x="1869.0" y="345.0" font-size="10" fill="#222" textLength="32.0" lengthAdjust="spacingAndGlyphs">402.890</text>
<text x="1869.0" y="377.0" font-size="10" fill="#222" textLength="32.0" lengthAdjust="spacingAndGlyphs">394.600</text>
<text x="1869.0" y="409.0" font-size="10" fill="#222" textLength="32.0" lengthAdjust="spacingAndGlyphs">386.310</text>
<text x="1869.0" y="441.0" font-size="10" fill="#222" textLength="32.0" lengthAdjust="spacingAndGlyphs">378.020</text>
<text x="1869.0" y="473.0" font-size="10" fill="#222" textLength="32.0" lengthAdjust="spacingAndGlyphs">369.730</text>
<text x="1869.0" y="505.0" font-size="10" fill="#222" textLength="32.0" lengthAdjust="spacingAndGlyphs">361.440</text>
<text x="1869.0" y="537.0" font-size="10" fill="#222" textLength="32.0" lengthAdjust="spacingAndGlyphs">353.150</text>
<text x="1869.0" y="569.0" font-size="10" fill="#222" textLength="32.0" lengthAdjust="spacingAndGlyphs">344.860</text>
<text x="1869.0" y="601.0" font-size="10" fill="#222" textLength="32.0" lengthAdjust="spacingAndGlyphs">336.570</text>
<text x="1869.0" y="634.0" font-size="10" fill="#222" textLength="32.0" lengthAdjust="spacingAndGlyphs">328.280</text>
<text x="1869.5" y="672.0" font-size="10" fill="#222" textLength="26.4" lengthAdjust="spacingAndGlyphs">100.00</text>
<text x="1869.0" y="692.0" font-size="10" fill="#222" textLength="21.5" lengthAdjust="spacingAndGlyphs">80.00</text>
<text x="1869.0" y="767.0" font-size="10" fill="#222" textLength="21.5" lengthAdjust="spacingAndGlyphs">20.00</text>
<text x="1869.0" y="786.0" font-size="10" fill="#222" textLength="17.0" lengthAdjust="spacingAndGlyphs">0.00</text>
<text x="1869.0" y="799.0" font-size="10" fill="#222" textLength="32.0" lengthAdjust="spacingAndGlyphs">26.1365</text>
<text x="1869.0" y="849.0" font-size="10" fill="#222" textLength="27.0" lengthAdjust="spacingAndGlyphs">0.0000</text>
<text x="1869.0" y="905.0" font-size="10" fill="#222" textLength="35.3" lengthAdjust="spacingAndGlyphs">-28.0652</text>
<rect x="1866" y="273" width="39" height="11" fill="#000" shape-rendering="crispEdges"/>
<text x="1869.0" y="282.0" font-size="10" fill="#fff" textLength="32.0" lengthAdjust="spacingAndGlyphs">419.000</text>
<rect x="1866" y="281" width="39" height="11" fill="#000" shape-rendering="crispEdges"/>
<text x="1869.0" y="290.0" font-size="10" fill="#fff" textLength="32.0" lengthAdjust="spacingAndGlyphs">417.000</text>
<rect x="1866" y="374" width="39" height="11" fill="#000" shape-rendering="crispEdges"/>
<text x="1869.0" y="383.0" font-size="10" fill="#fff" textLength="32.0" lengthAdjust="spacingAndGlyphs">393.000</text>
<rect x="1866" y="443" width="39" height="11" fill="#000" shape-rendering="crispEdges"/>
<text x="1869.0" y="452.0" font-size="10" fill="#fff" textLength="32.0" lengthAdjust="spacingAndGlyphs">375.000</text>
<rect x="1866" y="486" width="39" height="11" fill="#000" shape-rendering="crispEdges"/>
<text x="1869.0" y="495.0" font-size="10" fill="#fff" textLength="32.0" lengthAdjust="spacingAndGlyphs">364.000</text>
<rect x="1866" y="528" width="39" height="11" fill="#000" shape-rendering="crispEdges"/>
<text x="1869.0" y="537.0" font-size="10" fill="#777" textLength="32.0" lengthAdjust="spacingAndGlyphs">353.000</text>
<rect x="1866" y="579" width="39" height="11" fill="#000" shape-rendering="crispEdges"/>
<text x="1869.0" y="588.0" font-size="10" fill="#fff" textLength="32.0" lengthAdjust="spacingAndGlyphs">340.000</text>
<rect x="1866" y="621" width="39" height="11" fill="#000" shape-rendering="crispEdges"/>
<text x="1869.0" y="630.0" font-size="10" fill="#fff" textLength="32.0" lengthAdjust="spacingAndGlyphs">329.000</text>
<rect x="1866" y="652" width="39" height="11" fill="#000" shape-rendering="crispEdges"/>
<text x="1869.0" y="661.0" font-size="10" fill="#fff" textLength="32.0" lengthAdjust="spacingAndGlyphs">321.000</text>
<text x="6.3" y="13.0" font-size="10" fill="#222" textLength="60.1" lengthAdjust="spacingAndGlyphs">ETHUSD, H4:</text>
<text x="72.7" y="13.0" font-size="10" fill="#222" textLength="129.4" lengthAdjust="spacingAndGlyphs">Ethereum - United States dollar</text>
<text x="208.8" y="13.0" font-size="10" fill="#222" textLength="140.2" lengthAdjust="spacingAndGlyphs">372.540 372.940 352.270 355.230</text>
<text x="5.5" y="676.3" font-size="10" fill="#222" textLength="57.6" lengthAdjust="spacingAndGlyphs">RSI(14) 33.95</text>
<text x="5.5" y="803.5" font-size="10" fill="#222" textLength="131.0" lengthAdjust="spacingAndGlyphs">MACD(12,26,9) -0.0280 3.5911</text>
<text x="3.0" y="919.5" font-size="10" fill="#222" textLength="51.7" lengthAdjust="spacingAndGlyphs">10 Aug 2020</text>
<text x="67.0" y="919.5" font-size="10" fill="#222" textLength="55.0" lengthAdjust="spacingAndGlyphs">11 Aug 16:00</text>
<text x="131.0" y="919.5" font-size="10" fill="#222" textLength="55.0" lengthAdjust="spacingAndGlyphs">13 Aug 00:00</text>
<text x="195.0" y="919.5" font-size="10" fill="#222" textLength="55.0" lengthAdjust="spacingAndGlyphs">14 Aug 08:00</text>
<text x="259.0" y="919.5" font-size="10" fill="#222" textLength="55.0" lengthAdjust="spacingAndGlyphs">17 Aug 12:00</text>
<text x="323.0" y="919.5" font-size="10" fill="#222" textLength="55.0" lengthAdjust="spacingAndGlyphs">18 Aug 20:00</text>
<text x="387.0" y="919.5" font-size="10" fill="#222" textLength="55.0" lengthAdjust="spacingAndGlyphs">20 Aug 04:00</text>
<text x="451.0" y="919.5" font-size="10" fill="#222" textLength="55.0" lengthAdjust="spacingAndGlyphs">21 Aug 12:00</text>
<text x="515.0" y="919.5" font-size="10" fill="#222" textLength="55.0" lengthAdjust="spacingAndGlyphs">24 Aug 16:00</text>
<text x="579.0" y="919.5" font-size="10" fill="#222" textLength="55.0" lengthAdjust="spacingAndGlyphs">26 Aug 00:00</text>
<text x="643.0" y="919.5" font-size="10" fill="#222" textLength="55.0" lengthAdjust="spacingAndGlyphs">27 Aug 08:00</text>
<text x="707.0" y="919.5" font-size="10" fill="#222" textLength="55.0" lengthAdjust="spacingAndGlyphs">28 Aug 16:00</text>
<text x="771.0" y="919.5" font-size="10" fill="#222" textLength="55.0" lengthAdjust="spacingAndGlyphs">31 Aug 20:00</text>
<text x="835.0" y="919.5" font-size="10" fill="#222" textLength="50.0" lengthAdjust="spacingAndGlyphs">2 Sep 04:00</text>
<text x="899.0" y="919.5" font-size="10" fill="#222" textLength="50.0" lengthAdjust="spacingAndGlyphs">3 Sep 12:00</text>
<text x="963.0" y="919.5" font-size="10" fill="#222" textLength="50.0" lengthAdjust="spacingAndGlyphs">4 Sep 20:00</text>
<text x="1027.0" y="919.5" font-size="10" fill="#222" textLength="50.0" lengthAdjust="spacingAndGlyphs">8 Sep 00:00</text>
<text x="1091.0" y="919.5" font-size="10" fill="#222" textLength="50.0" lengthAdjust="spacingAndGlyphs">9 Sep 08:00</text>
<text x="1155.0" y="919.5" font-size="10" fill="#222" textLength="55.0" lengthAdjust="spacingAndGlyphs">10 Sep 16:00</text>
<text x="1219.0" y="919.5" font-size="10" fill="#222" textLength="55.0" lengthAdjust="spacingAndGlyphs">13 Sep 20:00</text>
<text x="1283.0" y="919.5" font-size="10" fill="#222" textLength="55.0" lengthAdjust="spacingAndGlyphs">15 Sep 04:00</text>
<text x="1347.0" y="919.5" font-size="10" fill="#222" textLength="55.0" lengthAdjust="spacingAndGlyphs">16 Sep 12:00</text>
<text x="1411.0" y="919.5" font-size="10" fill="#222" textLength="55.0" lengthAdjust="spacingAndGlyphs">17 Sep 20:00</text>
<text x="1475.0" y="919.5" font-size="10" fill="#222" textLength="55.0" lengthAdjust="spacingAndGlyphs">21 Sep 00:00</text>
</svg></body></html>
